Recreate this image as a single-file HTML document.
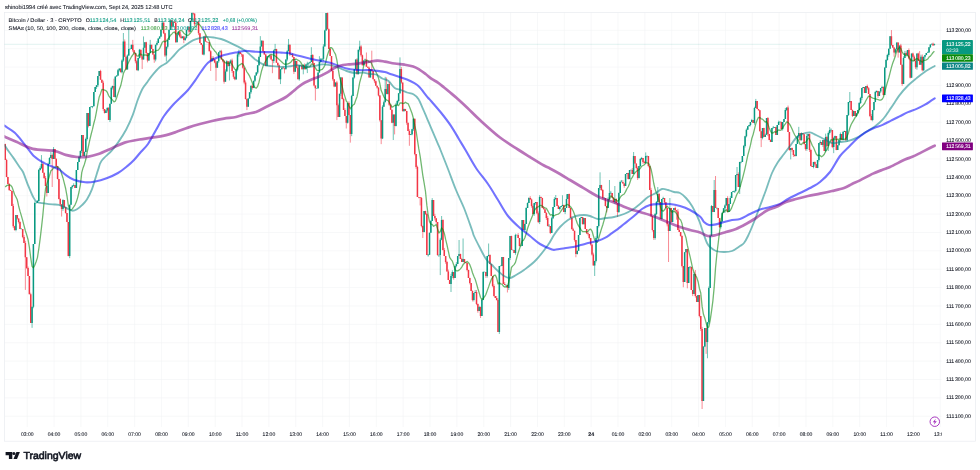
<!DOCTYPE html><html><head><meta charset="utf-8"><title>BTCUSD chart</title>
<style>html,body{margin:0;padding:0;background:#fff}svg{display:block;will-change:transform}text{font-family:"Liberation Sans",sans-serif;text-rendering:geometricPrecision;stroke-width:0.09}</style></head><body>
<svg width="980" height="470" viewBox="0 0 980 470">
<rect width="980" height="470" fill="#fff"/>
<defs><clipPath id="plot"><rect x="4.5" y="12.4" width="937.1" height="414.6"/></clipPath></defs>
<text x="5" y="9.3" font-size="5.75" fill="#131722" textLength="167.5" lengthAdjust="spacingAndGlyphs" stroke="#131722">shinobi1994 créé avec TradingView.com, Sept 24, 2025 12:48 UTC</text>
<path d="M27.2 12.4V427M54.05 12.4V427M80.91 12.4V427M107.77 12.4V427M134.62 12.4V427M161.47 12.4V427M188.33 12.4V427M215.19 12.4V427M242.04 12.4V427M268.89 12.4V427M295.75 12.4V427M322.61 12.4V427M349.46 12.4V427M376.31 12.4V427M403.17 12.4V427M430.02 12.4V427M456.88 12.4V427M483.74 12.4V427M510.59 12.4V427M537.45 12.4V427M564.3 12.4V427M591.16 12.4V427M618.01 12.4V427M644.87 12.4V427M671.72 12.4V427M698.58 12.4V427M725.43 12.4V427M752.29 12.4V427M779.14 12.4V427M806 12.4V427M832.85 12.4V427M859.71 12.4V427M886.56 12.4V427M913.42 12.4V427M940.27 12.4V427M4.5 30.3H941.6M4.5 48.68H941.6M4.5 67.05H941.6M4.5 85.43H941.6M4.5 103.8H941.6M4.5 122.18H941.6M4.5 140.56H941.6M4.5 158.93H941.6M4.5 177.31H941.6M4.5 195.68H941.6M4.5 214.06H941.6M4.5 232.44H941.6M4.5 250.81H941.6M4.5 269.19H941.6M4.5 287.56H941.6M4.5 305.94H941.6M4.5 324.32H941.6M4.5 342.69H941.6M4.5 361.07H941.6M4.5 379.44H941.6M4.5 397.82H941.6M4.5 416.2H941.6" stroke="#f2f3f5" stroke-width="0.6" fill="none"/>
<rect x="4.5" y="12.4" width="971" height="428.8" fill="none" stroke="#e9ebf0" stroke-width="0.7"/>
<g clip-path="url(#plot)">
<path d="M4.5 44.3H941.6" stroke="#089981" stroke-opacity="0.45" stroke-width="0.55" stroke-dasharray="0.5 0.5"/>
<g fill="none" stroke-width="0.58">
<path d="M5.22 143.67V160M6.56 158.82V177.13M7.9 176.92V184.15M9.25 183.07V190.22M10.59 189.73V191M11.93 191V206M13.27 203.85V228.03M14.62 225.83V230.68" stroke="#f23645"/>
<path d="M15.96 215V231.28" stroke="#089981"/>
<path d="M17.3 215V219.67M18.64 218.33V223.5M19.99 221.31V229" stroke="#f23645"/>
<path d="M21.33 228.34V229" stroke="#089981"/>
<path d="M22.67 229V238.26M24.02 235.07V243M25.36 240.84V289.92M26.7 257.18V269.08M28.04 266.53V276M29.39 276V294.24M30.73 292.71V323" stroke="#f23645"/>
<path d="M32.07 306.82V327.85M33.41 244V308.28M34.76 201.46V244M36.1 202.86V203M37.44 200.15V202.86M38.79 168.98V201.26M40.13 166.31V170.54M41.47 155.08V168.99" stroke="#089981"/>
<path d="M42.81 162.06V172.71M44.16 172.71V178.91M45.5 176.05V186M46.84 185.61V196.51" stroke="#f23645"/>
<path d="M48.18 162.7V193.01M49.53 157.19V164M50.87 152V158" stroke="#089981"/>
<path d="M52.21 153.64V187" stroke="#f23645"/>
<path d="M53.56 147.02V159" stroke="#089981"/>
<path d="M54.9 149V159M56.24 158.12V167.4M57.58 165.85V179.38M58.93 178.91V199.41M60.27 198.27V206.05M61.61 204.13V216.55" stroke="#f23645"/>
<path d="M62.96 199.2V210.87" stroke="#089981"/>
<path d="M64.3 200V208.06M65.64 206.78V213.58M66.98 213V222.05M68.33 222V256.32" stroke="#f23645"/>
<path d="M69.67 204.64V258.15M71.01 187V204.7M72.35 185.02V188.7M73.7 183.29V186.32" stroke="#089981"/>
<path d="M75.04 185V188" stroke="#f23645"/>
<path d="M76.38 170V188M77.73 162V170M79.07 155.86V162.06M80.41 150.44V158.52M81.75 135V153.12" stroke="#089981"/>
<path d="M83.1 135V156" stroke="#f23645"/>
<path d="M84.44 151.51V156.43M85.78 137.63V152M87.12 113V140.44" stroke="#089981"/>
<path d="M88.47 113V127.45" stroke="#f23645"/>
<path d="M89.81 107V126M91.15 106.42V107.39M92.5 106V108.18M93.84 92V106.88M95.18 87V92M96.52 85.06V88.99M97.87 76V87.15M99.21 71V76" stroke="#089981"/>
<path d="M100.55 69.79V79.73M101.89 79.7V82.8M103.24 80.75V110.92M104.58 109V113.55" stroke="#f23645"/>
<path d="M105.92 110.06V113M107.27 107.08V112.59" stroke="#089981"/>
<path d="M108.61 106.99V120" stroke="#f23645"/>
<path d="M109.95 103.87V122.02M111.29 86.52V103.91M112.64 85.6V89.45" stroke="#089981"/>
<path d="M113.98 78.66V97" stroke="#f23645"/>
<path d="M115.32 76.6V98.14M116.67 75.4V76.6M118.01 68.97V76.01M119.35 68.6V71.44" stroke="#089981"/>
<path d="M120.69 68.6V72.3" stroke="#f23645"/>
<path d="M122.04 59.25V73.43M123.38 33V61.77" stroke="#089981"/>
<path d="M124.72 39.43V56.82M126.06 56.82V69.4" stroke="#f23645"/>
<path d="M127.41 54.38V69.4M128.75 28V55.87M130.09 48.74V49.16M131.44 44.8V48.9" stroke="#089981"/>
<path d="M132.78 39.9V51.83M134.12 50.26V54.94M135.46 53V63.3M136.81 60.13V70.2" stroke="#f23645"/>
<path d="M138.15 57.9V71.15M139.49 48.95V58.6" stroke="#089981"/>
<path d="M140.83 49.7V57.52M142.18 56.26V69.07" stroke="#f23645"/>
<path d="M143.52 36.46V59.5M144.86 42.3V47.66" stroke="#089981"/>
<path d="M146.21 41.72V54.71M147.55 52.71V62.41" stroke="#f23645"/>
<path d="M148.89 53V60.73M150.23 39.9V53" stroke="#089981"/>
<path d="M151.58 44.8V49.03M152.92 48.9V54.76M154.26 54.6V62.8" stroke="#f23645"/>
<path d="M155.6 44.8V61.38M156.95 41.2V45.55M158.29 38.51V43.1M159.63 36.32V39.03M160.98 29.64V37.04M162.32 22.03V30" stroke="#089981"/>
<path d="M163.66 21.6V34.06M165 32.75V57.01" stroke="#f23645"/>
<path d="M166.35 46.7V61.44M167.69 39.9V48.5M169.03 28.91V39.9M170.38 19.09V30" stroke="#089981"/>
<path d="M171.72 20.2V28.63" stroke="#f23645"/>
<path d="M173.06 21.8V26.8" stroke="#089981"/>
<path d="M174.4 21.04V23.04M175.75 21.12V42.66" stroke="#f23645"/>
<path d="M177.09 33.02V42.3M178.43 31.7V35.4" stroke="#089981"/>
<path d="M179.77 30.69V37.58M181.12 34.48V38.2" stroke="#f23645"/>
<path d="M182.46 36.06V38.2" stroke="#089981"/>
<path d="M183.8 35.82V43.14" stroke="#f23645"/>
<path d="M185.15 36.59V41.01M186.49 29.42V38.57M187.83 26.75V30.51" stroke="#089981"/>
<path d="M189.17 26.8V33.35" stroke="#f23645"/>
<path d="M190.52 20.66V31.7M191.86 12.8V21.38" stroke="#089981"/>
<path d="M193.2 12.8V15.19M194.54 13.6V26.14" stroke="#f23645"/>
<path d="M195.89 23.39V24.3M197.23 21.8V23.39" stroke="#089981"/>
<path d="M198.57 20.65V35.14M199.92 33.3V43.1M201.26 43.1V44.8M202.6 44.8V54.6" stroke="#f23645"/>
<path d="M203.94 36.53V55.39" stroke="#089981"/>
<path d="M205.29 34.76V41.5M206.63 41.5V42.17M207.97 42.17V42.31M209.31 42.3V51.3M210.66 50.12V71" stroke="#f23645"/>
<path d="M212 56.28V61.36" stroke="#089981"/>
<path d="M213.34 56.3V61.13M214.69 59.5V63.28M216.03 60.93V80.9" stroke="#f23645"/>
<path d="M217.37 61.2V67.7M218.71 51.88V62.84M220.06 50.05V52.33" stroke="#089981"/>
<path d="M221.4 49.82V59.5M222.74 59.5V62.34M224.09 60.17V83.67" stroke="#f23645"/>
<path d="M225.43 69.34V81.7M226.77 60.19V71.49" stroke="#089981"/>
<path d="M228.11 61.2V66.69" stroke="#f23645"/>
<path d="M229.46 60.72V80.48M230.8 59.25V62.8" stroke="#089981"/>
<path d="M232.14 58.6V72.95M233.48 71V78.77M234.83 76.75V80.28" stroke="#f23645"/>
<path d="M236.17 69.02V79.96M237.51 52.75V71.33M238.86 49.7V56.64" stroke="#089981"/>
<path d="M240.2 52.2V53.96M241.54 53.14V56.8M242.88 54.6V68.64M244.23 67.59V84.34M245.57 80.44V99.48M246.91 98.48V110.1" stroke="#f23645"/>
<path d="M248.25 98.42V106.7M249.6 92.3V98.42M250.94 85.7V93.88" stroke="#089981"/>
<path d="M252.28 84.09V89.66" stroke="#f23645"/>
<path d="M253.63 80.8V88.11M254.97 75.61V81.84M256.31 71.94V75.61M257.65 65.2V74.04M259 55.71V65.57M260.34 36.14V56.94M261.68 40.22V46.4" stroke="#089981"/>
<path d="M263.02 40.7V51.61M264.37 51.1V54.8M265.71 54.03V66.1" stroke="#f23645"/>
<path d="M267.05 56.2V66.1M268.4 55.24V57.03M269.74 55.26V58.28" stroke="#089981"/>
<path d="M271.08 54.29V59.5M272.42 59.5V73.2" stroke="#f23645"/>
<path d="M273.77 49.62V63.2M275.11 43.9V50.5" stroke="#089981"/>
<path d="M276.45 48.83V62.8M277.8 62.8V66.62M279.14 64.47V79.2" stroke="#f23645"/>
<path d="M280.48 69.3V84.1M281.82 67.7V69.54" stroke="#089981"/>
<path d="M283.17 66.55V68.17M284.51 68.17V73.4" stroke="#f23645"/>
<path d="M285.85 59.5V69.3M287.19 50.09V61.22M288.54 38.98V51.3" stroke="#089981"/>
<path d="M289.88 44.52V56" stroke="#f23645"/>
<path d="M291.22 54.6V54.75" stroke="#089981"/>
<path d="M292.57 53.32V57.47M293.91 56.97V74.06" stroke="#f23645"/>
<path d="M295.25 58.99V71.8" stroke="#089981"/>
<path d="M296.59 61.1V68.22M297.94 65.59V79.2" stroke="#f23645"/>
<path d="M299.28 65.15V80.68M300.62 64.63V65.2" stroke="#089981"/>
<path d="M301.96 65.2V69.38" stroke="#f23645"/>
<path d="M303.31 64.27V74.3" stroke="#089981"/>
<path d="M304.65 63.45V69.3" stroke="#f23645"/>
<path d="M305.99 63.95V69.3M307.34 61.76V73.09M308.68 62.8V65.66M310.02 61.59V63.72M311.36 47.2V62" stroke="#089981"/>
<path d="M312.71 54.13V65.15M314.05 62.89V86.35M315.39 85.49V100.5" stroke="#f23645"/>
<path d="M316.73 88.2V88.2M318.08 72.6V88.61M319.42 56.2V72.6M320.76 58.04V62.86M322.11 58.45V60.12M323.45 44.3V60.94M324.79 29.72V46.4M326.13 13V30.61" stroke="#089981"/>
<path d="M327.48 12.18V29.27M328.82 28.47V48.9M330.16 48V56M331.51 56V71.08M332.85 68.98V80.84M334.19 79.2V87.2" stroke="#f23645"/>
<path d="M335.53 82.5V86.6" stroke="#089981"/>
<path d="M336.88 80.92V120.11M338.22 103.56V117" stroke="#f23645"/>
<path d="M339.56 93.77V117M340.9 76.99V95.87" stroke="#089981"/>
<path d="M342.25 77.5V99.45M343.59 97.81V110M344.93 108.23V116M346.28 116V128.5" stroke="#f23645"/>
<path d="M347.62 103V123.5" stroke="#089981"/>
<path d="M348.96 101.28V115.43M350.3 115V142.64" stroke="#f23645"/>
<path d="M351.65 94.82V136.16M352.99 77.5V96.04M354.33 69.12V78.6M355.67 59.5V69.82" stroke="#089981"/>
<path d="M357.02 58.14V74.3" stroke="#f23645"/>
<path d="M358.36 49.7V74.3M359.7 40.7V51.55" stroke="#089981"/>
<path d="M361.05 45.15V56.75M362.39 54.58V65.54" stroke="#f23645"/>
<path d="M363.73 60.4V65.2M365.07 58.63V60.4" stroke="#089981"/>
<path d="M366.42 52.49V66.69M367.76 66.69V67.7M369.1 66.66V77.5" stroke="#f23645"/>
<path d="M370.44 69.3V77.5" stroke="#089981"/>
<path d="M371.79 50.65V71.42M373.13 71V79.2M374.47 79.2V83.16M375.82 80.68V85.7M377.16 85.7V88.71M378.5 87.4V96.41M379.84 95.15V121.62M381.19 120.3V144.13" stroke="#f23645"/>
<path d="M382.53 105.21V139.09M383.87 100.55V106.84M385.22 76.83V102.3" stroke="#089981"/>
<path d="M386.56 77.5V94.26" stroke="#f23645"/>
<path d="M387.9 84.1V94.52" stroke="#089981"/>
<path d="M389.24 82V106.05M390.59 103.88V109.7M391.93 109.7V123.23" stroke="#f23645"/>
<path d="M393.27 114.6V140.01" stroke="#089981"/>
<path d="M394.61 114.6V134.4" stroke="#f23645"/>
<path d="M395.96 102.86V126.46M397.3 99.9V104.8M398.64 93.22V102.48M399.99 57.39V93.84" stroke="#089981"/>
<path d="M401.33 66.96V83.68M402.67 82.6V111.3" stroke="#f23645"/>
<path d="M404.01 108.62V111.3" stroke="#089981"/>
<path d="M405.36 108.9V111.12M406.7 111V124.79M408.04 122.8V131M409.38 129.27V145.79" stroke="#f23645"/>
<path d="M410.73 134.16V135.1M412.07 128.82V135.29M413.41 118.43V130.89" stroke="#089981"/>
<path d="M414.76 118.7V155.31M416.1 154.07V168.84M417.44 165.68V197M418.78 197V198.28M420.13 197.35V205.45M421.47 197.04V227.36M422.81 225.48V238" stroke="#f23645"/>
<path d="M424.15 211V232.4" stroke="#089981"/>
<path d="M425.5 210.76V214.95M426.84 213.03V255.09" stroke="#f23645"/>
<path d="M428.18 254.83V256.61M429.53 232.7V254.95M430.87 220.17V232.7M432.21 198.11V221" stroke="#089981"/>
<path d="M433.55 200V216M434.9 213.84V220.47M436.24 218.37V223.73M437.58 222V255.77" stroke="#f23645"/>
<path d="M438.93 255V256.97M440.27 237.86V275.1M441.61 216V240.24" stroke="#089981"/>
<path d="M442.95 219.3V250.4M444.3 247.94V256M445.64 256V263.73M446.98 260.83V271.48M448.32 269.56V279.89M449.67 279.89V284" stroke="#f23645"/>
<path d="M451.01 273.82V292M452.35 270.25V278.18" stroke="#089981"/>
<path d="M453.7 272V279.68" stroke="#f23645"/>
<path d="M455.04 265.5V278M456.38 262.13V267.29M457.72 256V263.94M459.07 240V256" stroke="#089981"/>
<path d="M460.41 253.67V259M461.75 257.87V262" stroke="#f23645"/>
<path d="M463.09 238.5V262" stroke="#089981"/>
<path d="M464.44 258.99V262.69M465.78 261.96V263M467.12 263V271.37M468.47 269.7V278M469.81 277.67V284.4M471.15 283V291M472.49 290.42V301.42" stroke="#f23645"/>
<path d="M473.84 293.12V301.42M475.18 289.94V293.12" stroke="#089981"/>
<path d="M476.52 290.01V305.17M477.86 303.48V312.71" stroke="#f23645"/>
<path d="M479.21 305.79V311" stroke="#089981"/>
<path d="M480.55 306.56V318" stroke="#f23645"/>
<path d="M481.89 298.59V316M483.24 271.32V300.11M484.58 272V272" stroke="#089981"/>
<path d="M485.92 272V277.86" stroke="#f23645"/>
<path d="M487.26 256V277.63M488.61 243.5V256.51" stroke="#089981"/>
<path d="M489.95 254.26V264M491.29 264V276M492.64 276V287.22M493.98 284.27V296.58M495.32 296V297.89M496.66 295.96V300.57M498.01 298.36V332" stroke="#f23645"/>
<path d="M499.35 266V333.94M500.69 265.47V266M502.03 257V266" stroke="#089981"/>
<path d="M503.38 257V284M504.72 282.15V285" stroke="#f23645"/>
<path d="M506.06 285V286.59" stroke="#089981"/>
<path d="M507.41 285V292.47" stroke="#f23645"/>
<path d="M508.75 258V290M510.09 235.94V260.04" stroke="#089981"/>
<path d="M511.43 235.69V250.09" stroke="#f23645"/>
<path d="M512.78 250V250" stroke="#089981"/>
<path d="M514.12 250V253" stroke="#f23645"/>
<path d="M515.46 233.7V254.8M516.8 235V235" stroke="#089981"/>
<path d="M518.15 233.09V238M519.49 238V246.45" stroke="#f23645"/>
<path d="M520.83 245.92V246M522.18 220V246" stroke="#089981"/>
<path d="M523.52 220V230" stroke="#f23645"/>
<path d="M524.86 223.72V231.67M526.2 207.3V223.99M527.55 202.38V208M528.89 197.29V203" stroke="#089981"/>
<path d="M530.23 196.13V199.43M531.57 198.52V207.7M532.92 204.45V214.48" stroke="#f23645"/>
<path d="M534.26 203V215.8M535.6 202V204.68" stroke="#089981"/>
<path d="M536.95 202V214.24M538.29 211.41V223.09" stroke="#f23645"/>
<path d="M539.63 195.17V224.08" stroke="#089981"/>
<path d="M540.97 196.53V198M542.32 197.76V208M543.66 206.27V209.35M545 209.35V213M546.35 212.12V219.96M547.69 216.05V226.45" stroke="#f23645"/>
<path d="M549.03 224.02V226.83" stroke="#089981"/>
<path d="M550.37 226V234.01" stroke="#f23645"/>
<path d="M551.72 216.71V233M553.06 207V219.08M554.4 197.15V207M555.74 195V199.97" stroke="#089981"/>
<path d="M557.09 198V206M558.43 204.98V209" stroke="#f23645"/>
<path d="M559.77 206.64V210.55M561.12 206V207.4M562.46 195.28V206.35" stroke="#089981"/>
<path d="M563.8 204.58V212" stroke="#f23645"/>
<path d="M565.14 208V214.12M566.49 194.15V208M567.83 194V199" stroke="#089981"/>
<path d="M569.17 193.57V208M570.51 207.55V218.07M571.86 216.26V229.16M573.2 227.76V231.03M574.54 230.72V241.63M575.89 240V257.26" stroke="#f23645"/>
<path d="M577.23 250.84V254.5M578.57 235V250.84M579.91 218V235M581.26 217V218" stroke="#089981"/>
<path d="M582.6 217V224.69" stroke="#f23645"/>
<path d="M583.94 218V224.92" stroke="#089981"/>
<path d="M585.28 218V229M586.63 229V234.08M587.97 231.78V235.49M589.31 234V239.44M590.66 238V245.58M592 244.5V255.6M593.34 252.68V265.5" stroke="#f23645"/>
<path d="M594.68 260.78V276M596.03 236.42V262.41M597.37 226V238.9M598.71 188V227.51M600.06 172.32V190.17" stroke="#089981"/>
<path d="M601.4 184.88V190.88M602.74 189.08V199.54" stroke="#f23645"/>
<path d="M604.08 197.42V199.63" stroke="#089981"/>
<path d="M605.43 198V206.48M606.77 206V212.47" stroke="#f23645"/>
<path d="M608.11 197.29V208M609.45 180V200.24M610.8 190.88V194.41" stroke="#089981"/>
<path d="M612.14 193V197.84M613.48 197.19V202.28" stroke="#f23645"/>
<path d="M614.83 186V203.87" stroke="#089981"/>
<path d="M616.17 198.17V203.94M617.51 202.99V217" stroke="#f23645"/>
<path d="M618.85 192.46V213.06M620.2 180.6V193M621.54 179.96V182" stroke="#089981"/>
<path d="M622.88 180.18V183.38M624.22 183.38V187.83" stroke="#f23645"/>
<path d="M625.57 174V186.03M626.91 173V174" stroke="#089981"/>
<path d="M628.25 172.78V179.51" stroke="#f23645"/>
<path d="M629.6 170V179.34M630.94 170V170" stroke="#089981"/>
<path d="M632.28 168.04V174" stroke="#f23645"/>
<path d="M633.62 152V174" stroke="#089981"/>
<path d="M634.97 156V163.52M636.31 163.52V169.52M637.65 166.37V179.94" stroke="#f23645"/>
<path d="M638.99 166V178.52M640.34 157.92V167.03M641.68 156.92V160.19" stroke="#089981"/>
<path d="M643.02 158V163.93M644.37 160.84V163" stroke="#f23645"/>
<path d="M645.71 152.4V163.92M647.05 156V157.4" stroke="#089981"/>
<path d="M648.39 156V167.34M649.74 166V190M651.08 187.84V217.07M652.42 216V231.58M653.77 230V239.9" stroke="#f23645"/>
<path d="M655.11 212.96V239.7M656.45 201.04V215.22M657.79 187V203.82" stroke="#089981"/>
<path d="M659.14 192.89V203.11M660.48 202V219" stroke="#f23645"/>
<path d="M661.82 199V219.7M663.16 196.71V199" stroke="#089981"/>
<path d="M664.51 198V203.88M665.85 202.29V208.11M667.19 207.99V226.36M668.54 224.33V262" stroke="#f23645"/>
<path d="M669.88 198V231" stroke="#089981"/>
<path d="M671.22 208V222" stroke="#f23645"/>
<path d="M672.56 210V222M673.91 208V210" stroke="#089981"/>
<path d="M675.25 206.53V212.03M676.59 209.96V219.7M677.93 209V230M679.28 228.19V231.98M680.62 231.98V236.66M681.96 235.3V267.41M683.31 266V287.25" stroke="#f23645"/>
<path d="M684.65 252.05V282M685.99 249V252.31" stroke="#089981"/>
<path d="M687.33 248.97V288.3" stroke="#f23645"/>
<path d="M688.68 267V283M690.02 266.09V268.42" stroke="#089981"/>
<path d="M691.36 266.67V290.01M692.7 290V296.13" stroke="#f23645"/>
<path d="M694.05 272.09V294.04" stroke="#089981"/>
<path d="M695.39 270V297.61M696.73 295.89V302" stroke="#f23645"/>
<path d="M698.08 295V302" stroke="#089981"/>
<path d="M699.42 295V317.38M700.76 316V331.05M702.1 326.88V409" stroke="#f23645"/>
<path d="M703.45 346.4V401M704.79 328V347.11" stroke="#089981"/>
<path d="M706.13 328V353.89" stroke="#f23645"/>
<path d="M707.48 322.09V358.26M708.82 286.51V323.98M710.16 234.58V288M711.5 205.15V236" stroke="#089981"/>
<path d="M712.85 206V212" stroke="#f23645"/>
<path d="M714.19 180V212.13" stroke="#089981"/>
<path d="M715.53 176V208" stroke="#f23645"/>
<path d="M716.87 208V209.33" stroke="#089981"/>
<path d="M718.22 208V218M719.56 218V227.94" stroke="#f23645"/>
<path d="M720.9 221.62V228.51M722.25 212.66V221.62M723.59 208V212.67M724.93 204.45V213M726.27 198V205.38" stroke="#089981"/>
<path d="M727.62 196.17V212" stroke="#f23645"/>
<path d="M728.96 204V212M730.3 196.13V204M731.64 192V198M732.99 191.12V192M734.33 191V192.95M735.67 175V192.34M737.02 167V175.45" stroke="#089981"/>
<path d="M738.36 172.35V187" stroke="#f23645"/>
<path d="M739.7 161.81V194M741.04 162V163.28M742.39 156V162M743.73 144.95V156M745.07 135.79V147.54M746.41 128.45V137.35M747.76 126.11V129.7M749.1 124.77V126.21M750.44 122V126.31M751.79 118.86V122.07" stroke="#089981"/>
<path d="M753.13 120V123" stroke="#f23645"/>
<path d="M754.47 106.75V124.71M755.81 98.92V108" stroke="#089981"/>
<path d="M757.16 101V109M758.5 108.92V110.61M759.84 110.1V131.35M761.19 131.35V147.08" stroke="#f23645"/>
<path d="M762.53 128V139.32" stroke="#089981"/>
<path d="M763.87 127.74V137" stroke="#f23645"/>
<path d="M765.21 133.55V137M766.56 118V134.79" stroke="#089981"/>
<path d="M767.9 117.01V136.12M769.24 134V140.08M770.58 139.23V142" stroke="#f23645"/>
<path d="M771.93 128V142M773.27 125.97V128M774.61 127V127.7" stroke="#089981"/>
<path d="M775.96 126.68V135" stroke="#f23645"/>
<path d="M777.3 125V135M778.64 120.7V125M779.98 121.29V122.27" stroke="#089981"/>
<path d="M781.33 121.63V129.31" stroke="#f23645"/>
<path d="M782.67 122V130.58M784.01 118.92V122M785.35 107.95V119M786.7 107.6V110.98" stroke="#089981"/>
<path d="M788.04 105.56V132M789.38 132V150.75" stroke="#f23645"/>
<path d="M790.73 148V159.38" stroke="#089981"/>
<path d="M792.07 147.51V151.67M793.41 150.1V156.92M794.75 154.09V156.6" stroke="#f23645"/>
<path d="M796.1 144V156.37M797.44 135.3V144M798.78 126.85V137.97" stroke="#089981"/>
<path d="M800.12 133V141.05" stroke="#f23645"/>
<path d="M801.47 132.43V140.8" stroke="#089981"/>
<path d="M802.81 133V134.17M804.15 134.17V144.64M805.5 144V150.6" stroke="#f23645"/>
<path d="M806.84 133.85V150.78M808.18 133.69V137.83" stroke="#089981"/>
<path d="M809.52 133.59V152.01M810.87 148.74V166.4M812.21 166V167" stroke="#f23645"/>
<path d="M813.55 161.83V168.34" stroke="#089981"/>
<path d="M814.9 161.4V165.68M816.24 164.33V168" stroke="#f23645"/>
<path d="M817.58 160V168.14M818.92 143V161.59M820.27 140.22V144.85" stroke="#089981"/>
<path d="M821.61 142V145.03" stroke="#f23645"/>
<path d="M822.95 140V146.92" stroke="#089981"/>
<path d="M824.29 139.59V151" stroke="#f23645"/>
<path d="M825.64 133.64V152.31" stroke="#089981"/>
<path d="M826.98 135.86V147.13" stroke="#f23645"/>
<path d="M828.32 131.43V151M829.67 127V134.56M831.01 128.35V131.92" stroke="#089981"/>
<path d="M832.35 130V148.13" stroke="#f23645"/>
<path d="M833.69 136.82V153.13M835.04 135.6V138.55" stroke="#089981"/>
<path d="M836.38 136V150.21" stroke="#f23645"/>
<path d="M837.72 145.22V150.04M839.06 140V145.22M840.41 132.45V141.91" stroke="#089981"/>
<path d="M841.75 134V140.27" stroke="#f23645"/>
<path d="M843.09 130.9V140.27M844.44 130.7V132" stroke="#089981"/>
<path d="M845.78 131V141.26" stroke="#f23645"/>
<path d="M847.12 115V141.82M848.46 102V115.93M849.81 92V102.87" stroke="#089981"/>
<path d="M851.15 101V110M852.49 109.47V116.96" stroke="#f23645"/>
<path d="M853.83 111V116" stroke="#089981"/>
<path d="M855.18 111V116" stroke="#f23645"/>
<path d="M856.52 113.16V117.14M857.86 110V113.16M859.21 102.07V110M860.55 96.83V103.95M861.89 87.95V100.13M863.23 87V88" stroke="#089981"/>
<path d="M864.58 87V93" stroke="#f23645"/>
<path d="M865.92 86V93" stroke="#089981"/>
<path d="M867.26 84.59V89.73M868.61 87.04V94M869.95 94V117.14M871.29 113.91V120.67" stroke="#f23645"/>
<path d="M872.63 110V121.31M873.98 102V110.59M875.32 90.83V102.27M876.66 90.35V92.63" stroke="#089981"/>
<path d="M878 90.81V97.85" stroke="#f23645"/>
<path d="M879.35 91.5V96M880.69 88V93.07M882.03 85.79V88" stroke="#089981"/>
<path d="M883.38 86.32V95.49" stroke="#f23645"/>
<path d="M884.72 66.96V95M886.06 59.22V67.81M887.4 53.78V60.63M888.75 48.7V56.7M890.09 36.15V48.7" stroke="#089981"/>
<path d="M891.43 30.06V45.97M892.77 45V48M894.12 47.5V56.7" stroke="#f23645"/>
<path d="M895.46 48.56V53.89M896.8 42.5V49.3" stroke="#089981"/>
<path d="M898.15 42.5V57.63" stroke="#f23645"/>
<path d="M899.49 45.6V52.4" stroke="#089981"/>
<path d="M900.83 43.87V64.7M902.17 64.7V85.92" stroke="#f23645"/>
<path d="M903.52 56.32V84M904.86 50.88V58" stroke="#089981"/>
<path d="M906.2 51.28V54.9" stroke="#f23645"/>
<path d="M907.54 50V55.9" stroke="#089981"/>
<path d="M908.89 48.41V59.46M910.23 58.6V78.41" stroke="#f23645"/>
<path d="M911.57 53.6V77.7" stroke="#089981"/>
<path d="M912.92 52.62V57.37M914.26 55.43V60.92M915.6 58.9V69.06" stroke="#f23645"/>
<path d="M916.94 53.6V69.7" stroke="#089981"/>
<path d="M918.29 52.66V61M919.63 51.1V64.7" stroke="#f23645"/>
<path d="M920.97 54.68V64.7" stroke="#089981"/>
<path d="M922.32 54.5V71.44" stroke="#f23645"/>
<path d="M923.66 56.7V71.09M925 54.97V58.79M926.34 53V55.19M927.69 51.52V53M929.03 47.13V52.4M930.37 44.4V48.09M931.71 43.8V44.4" stroke="#089981"/>
<path d="M933.06 42.63V45.6" stroke="#f23645"/>
<path d="M934.4 43.6V45.6" stroke="#089981"/>
</g><g fill="none" stroke-width="1.5">
<path d="M5.22 144V160M6.56 160V177M7.9 177V184M9.25 184V190.22M10.59 190.22V191M11.93 191V206M13.27 206V226.15M14.62 226.15V230" stroke="#f23645"/>
<path d="M15.96 215V230" stroke="#089981"/>
<path d="M17.3 215V218.46M18.64 218.46V222M19.99 222V229" stroke="#f23645"/>
<path d="M21.33 228.7V229.3" stroke="#089981"/>
<path d="M22.67 229V237M24.02 237V243M25.36 243V257.18M26.7 257.18V268M28.04 268V276M29.39 276V294.24M30.73 294.24V323" stroke="#f23645"/>
<path d="M32.07 306.82V323M33.41 244V306.82M34.76 203V244M36.1 202.63V203.23M37.44 201V202.86M38.79 170V201M40.13 168V170M41.47 164V168" stroke="#089981"/>
<path d="M42.81 164V172.71M44.16 172.71V178M45.5 178V186M46.84 186V193" stroke="#f23645"/>
<path d="M48.18 164V193M49.53 158V164M50.87 155V158" stroke="#089981"/>
<path d="M52.21 155V159" stroke="#f23645"/>
<path d="M53.56 149V159" stroke="#089981"/>
<path d="M54.9 149V159M56.24 159V166M57.58 166V179.02M58.93 179.02V199.07M60.27 199.07V204.13M61.61 204.13V209" stroke="#f23645"/>
<path d="M62.96 200V209" stroke="#089981"/>
<path d="M64.3 200V207M65.64 207V213M66.98 213V222M68.33 222V256" stroke="#f23645"/>
<path d="M69.67 204.7V256M71.01 187V204.7M72.35 185.83V187M73.7 185V185.83" stroke="#089981"/>
<path d="M75.04 185V188" stroke="#f23645"/>
<path d="M76.38 170V188M77.73 162V170M79.07 157V162M80.41 151.06V157M81.75 135V151.06" stroke="#089981"/>
<path d="M83.1 135V156" stroke="#f23645"/>
<path d="M84.44 152V156M85.78 139V152M87.12 113V139" stroke="#089981"/>
<path d="M88.47 113V126" stroke="#f23645"/>
<path d="M89.81 107V126M91.15 106.41V107.01M92.5 105.91V106.51M93.84 92V106M95.18 87V92M96.52 85.34V87M97.87 76V85.34M99.21 71V76" stroke="#089981"/>
<path d="M100.55 71V79.7M101.89 79.7V82.8M103.24 82.8V109M104.58 109V113" stroke="#f23645"/>
<path d="M105.92 110.59V113M107.27 108V110.59" stroke="#089981"/>
<path d="M108.61 108V120" stroke="#f23645"/>
<path d="M109.95 103.87V120M111.29 87.69V103.87M112.64 86V87.69" stroke="#089981"/>
<path d="M113.98 86V97" stroke="#f23645"/>
<path d="M115.32 76.6V97M116.67 75.4V76.6M118.01 70.2V75.4M119.35 68.6V70.2" stroke="#089981"/>
<path d="M120.69 68.6V72.3" stroke="#f23645"/>
<path d="M122.04 60.6V72.3M123.38 41.5V60.6" stroke="#089981"/>
<path d="M124.72 41.5V56.82M126.06 56.82V69.4" stroke="#f23645"/>
<path d="M127.41 55.61V69.4M128.75 49V55.61M130.09 48.65V49.25M131.44 44.8V48.9" stroke="#089981"/>
<path d="M132.78 44.8V50.26M134.12 50.26V53M135.46 53V61.2M136.81 61.2V70.2" stroke="#f23645"/>
<path d="M138.15 57.9V70.2M139.49 49.7V57.9" stroke="#089981"/>
<path d="M140.83 49.7V56.3M142.18 56.3V59.5" stroke="#f23645"/>
<path d="M143.52 47.66V59.5M144.86 42.3V47.66" stroke="#089981"/>
<path d="M146.21 42.3V53M147.55 53V60.4" stroke="#f23645"/>
<path d="M148.89 53V60.4M150.23 44.8V53" stroke="#089981"/>
<path d="M151.58 44.8V48.9M152.92 48.9V54.6M154.26 54.6V59.5" stroke="#f23645"/>
<path d="M155.6 44.8V59.5M156.95 43.1V44.8M158.29 38.51V43.1M159.63 36.6V38.51M160.98 30V36.6M162.32 22.7V30" stroke="#089981"/>
<path d="M163.66 22.7V33.3M165 33.3V55.4" stroke="#f23645"/>
<path d="M166.35 46.7V55.4M167.69 39.9V46.7M169.03 30V39.9M170.38 20.2V30" stroke="#089981"/>
<path d="M171.72 20.2V26.8" stroke="#f23645"/>
<path d="M173.06 21.8V26.8" stroke="#089981"/>
<path d="M174.4 21.8V22.75M175.75 22.75V42.3" stroke="#f23645"/>
<path d="M177.09 34.87V42.3M178.43 31.7V34.87" stroke="#089981"/>
<path d="M179.77 31.7V36.6M181.12 36.6V38.2" stroke="#f23645"/>
<path d="M182.46 36.6V38.2" stroke="#089981"/>
<path d="M183.8 36.6V39.9" stroke="#f23645"/>
<path d="M185.15 37.69V39.9M186.49 30V37.69M187.83 26.8V30" stroke="#089981"/>
<path d="M189.17 26.8V31.7" stroke="#f23645"/>
<path d="M190.52 20.66V31.7M191.86 12.8V20.66" stroke="#089981"/>
<path d="M193.2 12.8V13.6M194.54 13.6V24.3" stroke="#f23645"/>
<path d="M195.89 23.39V24.3M197.23 21.8V23.39" stroke="#089981"/>
<path d="M198.57 21.8V33.3M199.92 33.3V43.1M201.26 43.1V44.8M202.6 44.8V54.6" stroke="#f23645"/>
<path d="M203.94 36.6V54.6" stroke="#089981"/>
<path d="M205.29 36.6V41.5M206.63 41.5V42.17M207.97 41.93V42.53M209.31 42.3V51.3M210.66 51.3V61.2" stroke="#f23645"/>
<path d="M212 57.9V61.2" stroke="#089981"/>
<path d="M213.34 57.9V59.5M214.69 59.5V62.43M216.03 62.43V67.7" stroke="#f23645"/>
<path d="M217.37 61.2V67.7M218.71 52.2V61.2M220.06 51.3V52.2" stroke="#089981"/>
<path d="M221.4 51.3V59.5M222.74 59.5V61.2M224.09 61.2V81.7" stroke="#f23645"/>
<path d="M225.43 71.49V81.7M226.77 61.2V71.49" stroke="#089981"/>
<path d="M228.11 61.2V66.1" stroke="#f23645"/>
<path d="M229.46 62.8V66.1M230.8 60.4V62.8" stroke="#089981"/>
<path d="M232.14 60.4V71M233.48 71V76.8M234.83 76.8V79.2" stroke="#f23645"/>
<path d="M236.17 69.68V79.2M237.51 54.6V69.68M238.86 52.2V54.6" stroke="#089981"/>
<path d="M240.2 52.2V53.96M241.54 53.96V54.6M242.88 54.6V67.7M244.23 67.7V82.5M245.57 82.5V98.9M246.91 98.9V106.7" stroke="#f23645"/>
<path d="M248.25 98.42V106.7M249.6 92.3V98.42M250.94 85.7V92.3" stroke="#089981"/>
<path d="M252.28 85.7V88" stroke="#f23645"/>
<path d="M253.63 80.8V88M254.97 75.61V80.8M256.31 72.6V75.61M257.65 65.2V72.6M259 56.94V65.2M260.34 46.4V56.94M261.68 40.7V46.4" stroke="#089981"/>
<path d="M263.02 40.7V51.3M264.37 51.3V54.6M265.71 54.6V66.1" stroke="#f23645"/>
<path d="M267.05 56.2V66.1M268.4 55.88V56.48M269.74 55.4V56.15" stroke="#089981"/>
<path d="M271.08 55.4V59.5M272.42 59.5V61.1" stroke="#f23645"/>
<path d="M273.77 50.5V61.1M275.11 48.9V50.5" stroke="#089981"/>
<path d="M276.45 48.9V62.8M277.8 62.8V65.33M279.14 65.33V79.2" stroke="#f23645"/>
<path d="M280.48 69.3V79.2M281.82 67.7V69.3" stroke="#089981"/>
<path d="M283.17 67.63V68.23M284.51 68.17V69.3" stroke="#f23645"/>
<path d="M285.85 59.5V69.3M287.19 51.3V59.5M288.54 44.8V51.3" stroke="#089981"/>
<path d="M289.88 44.8V54.6" stroke="#f23645"/>
<path d="M291.22 54.3V54.9" stroke="#089981"/>
<path d="M292.57 54.6V56.97M293.91 56.97V71.8" stroke="#f23645"/>
<path d="M295.25 61.1V71.8" stroke="#089981"/>
<path d="M296.59 61.1V67.7M297.94 67.7V79.2" stroke="#f23645"/>
<path d="M299.28 65.2V79.2M300.62 64.9V65.5" stroke="#089981"/>
<path d="M301.96 65.2V69.3" stroke="#f23645"/>
<path d="M303.31 65.2V69.3" stroke="#089981"/>
<path d="M304.65 65.2V69.3" stroke="#f23645"/>
<path d="M305.99 64.4V69.3M307.34 63.56V64.4M308.68 62.8V63.56M310.02 62V62.8M311.36 55V62" stroke="#089981"/>
<path d="M312.71 55V63M314.05 63V85.49M315.39 85.49V88.2" stroke="#f23645"/>
<path d="M316.73 87.9V88.5M318.08 72.6V88.2M319.42 62.04V72.6M320.76 59.5V62.04M322.11 58.82V59.5M323.45 46.4V58.82M324.79 30.5V46.4M326.13 13V30.5" stroke="#089981"/>
<path d="M327.48 13V29.27M328.82 29.27V48.9M330.16 48.9V56M331.51 56V71M332.85 71V79.2M334.19 79.2V86.6" stroke="#f23645"/>
<path d="M335.53 82.5V86.6" stroke="#089981"/>
<path d="M336.88 82.5V105.23M338.22 105.23V117" stroke="#f23645"/>
<path d="M339.56 93.77V117M340.9 77.5V93.77" stroke="#089981"/>
<path d="M342.25 77.5V98.9M343.59 98.9V110M344.93 110V116M346.28 116V122.8" stroke="#f23645"/>
<path d="M347.62 103V122.8" stroke="#089981"/>
<path d="M348.96 103V115M350.3 115V134" stroke="#f23645"/>
<path d="M351.65 96.04V134M352.99 77.5V96.04M354.33 69.3V77.5M355.67 59.5V69.3" stroke="#089981"/>
<path d="M357.02 59.5V74.3" stroke="#f23645"/>
<path d="M358.36 49.7V74.3M359.7 46.4V49.7" stroke="#089981"/>
<path d="M361.05 46.4V55.13M362.39 55.13V65.2" stroke="#f23645"/>
<path d="M363.73 60.4V65.2M365.07 59.5V60.4" stroke="#089981"/>
<path d="M366.42 59.5V66.69M367.76 66.69V67.7M369.1 67.7V77.5" stroke="#f23645"/>
<path d="M370.44 69.3V77.5" stroke="#089981"/>
<path d="M371.79 69.3V71M373.13 71V79.2M374.47 79.2V81.25M375.82 81.25V85.7M377.16 85.7V87.4M378.5 87.4V95.6M379.84 95.6V120.3M381.19 120.3V138.4" stroke="#f23645"/>
<path d="M382.53 106.7V138.4M383.87 102.3V106.7M385.22 89V102.3" stroke="#089981"/>
<path d="M386.56 89V93.9" stroke="#f23645"/>
<path d="M387.9 84.1V93.9" stroke="#089981"/>
<path d="M389.24 84.1V104.8M390.59 104.8V109.7M391.93 109.7V122.8" stroke="#f23645"/>
<path d="M393.27 114.6V122.8" stroke="#089981"/>
<path d="M394.61 114.6V126.1" stroke="#f23645"/>
<path d="M395.96 104.8V126.1M397.3 101.11V104.8M398.64 93.22V101.11M399.99 69V93.22" stroke="#089981"/>
<path d="M401.33 69V82.6M402.67 82.6V111.3" stroke="#f23645"/>
<path d="M404.01 108.9V111.3" stroke="#089981"/>
<path d="M405.36 108.9V111M406.7 111V122.8M408.04 122.8V131M409.38 131V135.1" stroke="#f23645"/>
<path d="M410.73 134.16V135.1M412.07 129.3V134.16M413.41 118.7V129.3" stroke="#089981"/>
<path d="M414.76 118.7V154.07M416.1 154.07V167M417.44 167V197M418.78 196.88V197.48M420.13 197.35V198M421.47 198V226M422.81 226V232" stroke="#f23645"/>
<path d="M424.15 211V232" stroke="#089981"/>
<path d="M425.5 211V214M426.84 214V255" stroke="#f23645"/>
<path d="M428.18 254.62V255.22M429.53 232.7V254.83M430.87 221V232.7M432.21 200V221" stroke="#089981"/>
<path d="M433.55 200V216M434.9 216V218.37M436.24 218.37V222M437.58 222V255" stroke="#f23645"/>
<path d="M438.93 254.7V255.3M440.27 239.66V255M441.61 220V239.66" stroke="#089981"/>
<path d="M442.95 220V250M444.3 250V256M445.64 256V262M446.98 262V271.48M448.32 271.48V279.89M449.67 279.89V284" stroke="#f23645"/>
<path d="M451.01 276V284M452.35 272V276" stroke="#089981"/>
<path d="M453.7 272V278" stroke="#f23645"/>
<path d="M455.04 265.88V278M456.38 263.94V265.88M457.72 256V263.94M459.07 254V256" stroke="#089981"/>
<path d="M460.41 254V259M461.75 259V262" stroke="#f23645"/>
<path d="M463.09 259V262" stroke="#089981"/>
<path d="M464.44 259V262.45M465.78 262.43V263.03M467.12 263V270M468.47 270V278M469.81 278V283M471.15 283V291M472.49 291V300" stroke="#f23645"/>
<path d="M473.84 293.12V300M475.18 292V293.12" stroke="#089981"/>
<path d="M476.52 292V304M477.86 304V311" stroke="#f23645"/>
<path d="M479.21 307V311" stroke="#089981"/>
<path d="M480.55 307V316" stroke="#f23645"/>
<path d="M481.89 300V316M483.24 272V300M484.58 271.7V272.3" stroke="#089981"/>
<path d="M485.92 272V276" stroke="#f23645"/>
<path d="M487.26 256V276M488.61 255V256" stroke="#089981"/>
<path d="M489.95 255V264M491.29 264V276M492.64 276V286M493.98 286V296M495.32 296V297.89M496.66 297.89V300M498.01 300V332" stroke="#f23645"/>
<path d="M499.35 266V332M500.69 265.7V266.3M502.03 257V266" stroke="#089981"/>
<path d="M503.38 257V284M504.72 284V285" stroke="#f23645"/>
<path d="M506.06 284.7V285.3" stroke="#089981"/>
<path d="M507.41 285V288" stroke="#f23645"/>
<path d="M508.75 258V288M510.09 236V258" stroke="#089981"/>
<path d="M511.43 236V250" stroke="#f23645"/>
<path d="M512.78 249.7V250.3" stroke="#089981"/>
<path d="M514.12 250V253" stroke="#f23645"/>
<path d="M515.46 235V253M516.8 234.7V235.3" stroke="#089981"/>
<path d="M518.15 235V238M519.49 238V246" stroke="#f23645"/>
<path d="M520.83 245.7V246.3M522.18 220V246" stroke="#089981"/>
<path d="M523.52 220V230" stroke="#f23645"/>
<path d="M524.86 223.94V230M526.2 208V223.94M527.55 203V208M528.89 198V203" stroke="#089981"/>
<path d="M530.23 198V199.43M531.57 199.43V206M532.92 206V214" stroke="#f23645"/>
<path d="M534.26 203V214M535.6 202V203" stroke="#089981"/>
<path d="M536.95 202V213.16M538.29 213.16V222" stroke="#f23645"/>
<path d="M539.63 197V222" stroke="#089981"/>
<path d="M540.97 197V198M542.32 198V208M543.66 208V209.35M545 209.35V213M546.35 213V218M547.69 218V226" stroke="#f23645"/>
<path d="M549.03 225.7V226.3" stroke="#089981"/>
<path d="M550.37 226V233" stroke="#f23645"/>
<path d="M551.72 218.37V233M553.06 207V218.37M554.4 199V207M555.74 198V199" stroke="#089981"/>
<path d="M557.09 198V206M558.43 206V209" stroke="#f23645"/>
<path d="M559.77 207.06V209M561.12 206V207.06M562.46 205V206" stroke="#089981"/>
<path d="M563.8 205V212" stroke="#f23645"/>
<path d="M565.14 208V212M566.49 199V208M567.83 194V199" stroke="#089981"/>
<path d="M569.17 194V208M570.51 208V218M571.86 218V229.16M573.2 229.16V230.72M574.54 230.72V240M575.89 240V254" stroke="#f23645"/>
<path d="M577.23 250.84V254M578.57 235V250.84M579.91 218V235M581.26 217V218" stroke="#089981"/>
<path d="M582.6 217V224" stroke="#f23645"/>
<path d="M583.94 218V224" stroke="#089981"/>
<path d="M585.28 218V229M586.63 229V233.15M587.97 233.15V234M589.31 234V238M590.66 238V244.5M592 244.5V254.4M593.34 254.4V265.5" stroke="#f23645"/>
<path d="M594.68 261V265.5M596.03 238V261M597.37 226V238M598.71 188V226M600.06 185V188" stroke="#089981"/>
<path d="M601.4 185V190M602.74 190V198" stroke="#f23645"/>
<path d="M604.08 197.7V198.3" stroke="#089981"/>
<path d="M605.43 198V206M606.77 206V208" stroke="#f23645"/>
<path d="M608.11 199V208M609.45 193V199M610.8 192.7V193.3" stroke="#089981"/>
<path d="M612.14 193V197.84M613.48 197.84V202" stroke="#f23645"/>
<path d="M614.83 199V202" stroke="#089981"/>
<path d="M616.17 199V203M617.51 203V212" stroke="#f23645"/>
<path d="M618.85 193V212M620.2 182V193M621.54 181.7V182.3" stroke="#089981"/>
<path d="M622.88 182V183.38M624.22 183.38V186" stroke="#f23645"/>
<path d="M625.57 174V186M626.91 173V174" stroke="#089981"/>
<path d="M628.25 173V179" stroke="#f23645"/>
<path d="M629.6 170V179M630.94 169.7V170.3" stroke="#089981"/>
<path d="M632.28 170V174" stroke="#f23645"/>
<path d="M633.62 156V174" stroke="#089981"/>
<path d="M634.97 156V163.52M636.31 163.52V168M637.65 168V178" stroke="#f23645"/>
<path d="M638.99 166V178M640.34 159V166M641.68 158V159" stroke="#089981"/>
<path d="M643.02 158V162.08M644.37 162.08V163" stroke="#f23645"/>
<path d="M645.71 156V163M647.05 155.7V156.3" stroke="#089981"/>
<path d="M648.39 156V166M649.74 166V190M651.08 190V216M652.42 216V230M653.77 230V238" stroke="#f23645"/>
<path d="M655.11 214V238M656.45 202V214M657.79 194V202" stroke="#089981"/>
<path d="M659.14 194V202M660.48 202V219" stroke="#f23645"/>
<path d="M661.82 199V219M663.16 198V199" stroke="#089981"/>
<path d="M664.51 198V202.29M665.85 202.29V208M667.19 208V224.33M668.54 224.33V231" stroke="#f23645"/>
<path d="M669.88 208V231" stroke="#089981"/>
<path d="M671.22 208V222" stroke="#f23645"/>
<path d="M672.56 210V222M673.91 208V210" stroke="#089981"/>
<path d="M675.25 208V210.35M676.59 210.35V211.6M677.93 211.6V230M679.28 230V231.98M680.62 231.98V236M681.96 236V266M683.31 266V282" stroke="#f23645"/>
<path d="M684.65 252.31V282M685.99 249V252.31" stroke="#089981"/>
<path d="M687.33 249V283" stroke="#f23645"/>
<path d="M688.68 267V283M690.02 266.7V267.3" stroke="#089981"/>
<path d="M691.36 267V290M692.7 290V294" stroke="#f23645"/>
<path d="M694.05 274V294" stroke="#089981"/>
<path d="M695.39 274V296M696.73 296V302" stroke="#f23645"/>
<path d="M698.08 295V302" stroke="#089981"/>
<path d="M699.42 295V316M700.76 316V329M702.1 329V401" stroke="#f23645"/>
<path d="M703.45 346.43V401M704.79 328V346.43" stroke="#089981"/>
<path d="M706.13 328V342" stroke="#f23645"/>
<path d="M707.48 322.23V342M708.82 288V322.23M710.16 236V288M711.5 206V236" stroke="#089981"/>
<path d="M712.85 206V212" stroke="#f23645"/>
<path d="M714.19 190V212" stroke="#089981"/>
<path d="M715.53 190V208" stroke="#f23645"/>
<path d="M716.87 207.7V208.3" stroke="#089981"/>
<path d="M718.22 208V218M719.56 218V227" stroke="#f23645"/>
<path d="M720.9 221.62V227M722.25 212.66V221.62M723.59 208.16V212.66M724.93 205.38V208.16M726.27 198V205.38" stroke="#089981"/>
<path d="M727.62 198V212" stroke="#f23645"/>
<path d="M728.96 204V212M730.3 198V204M731.64 192V198M732.99 191.3V192M734.33 190.85V191.45M735.67 175V191M737.02 174V175" stroke="#089981"/>
<path d="M738.36 174V187" stroke="#f23645"/>
<path d="M739.7 162V187M741.04 161.7V162.3M742.39 156V162M743.73 146V156M745.07 136.21V146M746.41 129.7V136.21M747.76 126.21V129.7M749.1 125V126.21M750.44 122V125M751.79 120V122" stroke="#089981"/>
<path d="M753.13 120V123" stroke="#f23645"/>
<path d="M754.47 108V123M755.81 101V108" stroke="#089981"/>
<path d="M757.16 101V109M758.5 109V110.21M759.84 110.21V131.35M761.19 131.35V138" stroke="#f23645"/>
<path d="M762.53 128V138" stroke="#089981"/>
<path d="M763.87 128V137" stroke="#f23645"/>
<path d="M765.21 134.79V137M766.56 118V134.79" stroke="#089981"/>
<path d="M767.9 118V134M769.24 134V140M770.58 140V142" stroke="#f23645"/>
<path d="M771.93 128V142M773.27 127.55V128.15M774.61 127V127.7" stroke="#089981"/>
<path d="M775.96 127V135" stroke="#f23645"/>
<path d="M777.3 125V135M778.64 122V125M779.98 121.7V122.3" stroke="#089981"/>
<path d="M781.33 122V129" stroke="#f23645"/>
<path d="M782.67 122V129M784.01 119V122M785.35 110V119M786.7 107.6V110" stroke="#089981"/>
<path d="M788.04 107.6V132M789.38 132V150" stroke="#f23645"/>
<path d="M790.73 148V150" stroke="#089981"/>
<path d="M792.07 148V150.1M793.41 150.1V155M794.75 155V156" stroke="#f23645"/>
<path d="M796.1 144V156M797.44 136V144M798.78 133V136" stroke="#089981"/>
<path d="M800.12 133V140" stroke="#f23645"/>
<path d="M801.47 133V140" stroke="#089981"/>
<path d="M802.81 133V134.17M804.15 134.17V144M805.5 144V149" stroke="#f23645"/>
<path d="M806.84 136V149M808.18 134V136" stroke="#089981"/>
<path d="M809.52 134V150M810.87 150V166M812.21 166V167" stroke="#f23645"/>
<path d="M813.55 162V167" stroke="#089981"/>
<path d="M814.9 162V164.33M816.24 164.33V168" stroke="#f23645"/>
<path d="M817.58 160V168M818.92 143V160M820.27 142V143" stroke="#089981"/>
<path d="M821.61 142V145" stroke="#f23645"/>
<path d="M822.95 140V145" stroke="#089981"/>
<path d="M824.29 140V151" stroke="#f23645"/>
<path d="M825.64 137V151" stroke="#089981"/>
<path d="M826.98 137V146" stroke="#f23645"/>
<path d="M828.32 133V146M829.67 130V133M831.01 129.7V130.3" stroke="#089981"/>
<path d="M832.35 130V147" stroke="#f23645"/>
<path d="M833.69 138V147M835.04 136V138" stroke="#089981"/>
<path d="M836.38 136V150" stroke="#f23645"/>
<path d="M837.72 145.22V150M839.06 140V145.22M840.41 134V140" stroke="#089981"/>
<path d="M841.75 134V140" stroke="#f23645"/>
<path d="M843.09 132V140M844.44 131V132" stroke="#089981"/>
<path d="M845.78 131V140" stroke="#f23645"/>
<path d="M847.12 115V140M848.46 102V115M849.81 101V102" stroke="#089981"/>
<path d="M851.15 101V110M852.49 110V116" stroke="#f23645"/>
<path d="M853.83 111V116" stroke="#089981"/>
<path d="M855.18 111V116" stroke="#f23645"/>
<path d="M856.52 113.16V116M857.86 110V113.16M859.21 103V110M860.55 98V103M861.89 88V98M863.23 87V88" stroke="#089981"/>
<path d="M864.58 87V93" stroke="#f23645"/>
<path d="M865.92 86V93" stroke="#089981"/>
<path d="M867.26 86V88.24M868.61 88.24V94M869.95 94V116M871.29 116V120" stroke="#f23645"/>
<path d="M872.63 110V120M873.98 102V110M875.32 92V102M876.66 91V92" stroke="#089981"/>
<path d="M878 91V96" stroke="#f23645"/>
<path d="M879.35 91.5V96M880.69 88V91.5M882.03 87V88" stroke="#089981"/>
<path d="M883.38 87V95" stroke="#f23645"/>
<path d="M884.72 67.8V95M886.06 60V67.8M887.4 55V60M888.75 48.7V55M890.09 36.3V48.7" stroke="#089981"/>
<path d="M891.43 36.3V45M892.77 45V47.5M894.12 47.5V52.4" stroke="#f23645"/>
<path d="M895.46 49.3V52.4M896.8 42.5V49.3" stroke="#089981"/>
<path d="M898.15 42.5V52.4" stroke="#f23645"/>
<path d="M899.49 45.6V52.4" stroke="#089981"/>
<path d="M900.83 45.6V64.7M902.17 64.7V84" stroke="#f23645"/>
<path d="M903.52 58V84M904.86 53V58" stroke="#089981"/>
<path d="M906.2 53V54.9" stroke="#f23645"/>
<path d="M907.54 50V54.9" stroke="#089981"/>
<path d="M908.89 50V58.6M910.23 58.6V77.7" stroke="#f23645"/>
<path d="M911.57 53.6V77.7" stroke="#089981"/>
<path d="M912.92 53.6V56.7M914.26 56.7V60.92M915.6 60.92V67.2" stroke="#f23645"/>
<path d="M916.94 53.6V67.2" stroke="#089981"/>
<path d="M918.29 53.6V61M919.63 61V64.7" stroke="#f23645"/>
<path d="M920.97 56.7V64.7" stroke="#089981"/>
<path d="M922.32 56.7V70.3" stroke="#f23645"/>
<path d="M923.66 56.7V70.3M925 54.97V56.7M926.34 53V54.97M927.69 52.4V53M929.03 47.13V52.4M930.37 44.4V47.13M931.71 43.8V44.4" stroke="#089981"/>
<path d="M933.06 43.8V45.6" stroke="#f23645"/>
<path d="M934.4 44.08V44.67" stroke="#089981"/>
</g>
<path d="M5.22 187L6.56 185.7L7.9 185.1L9.25 185.12L10.59 185.22L11.93 186.82L13.27 190.44L14.62 194.44L15.96 196.94L17.3 199.78L18.64 205.98L19.99 211.18L21.33 215.68L22.67 220.36L24.02 225.56L25.36 230.68L26.7 234.86L28.04 239.46L29.39 247.39L30.73 257.84L32.07 266.32L33.41 267.82L34.76 265.22L36.1 261.81L37.44 257.61L38.79 248.89L40.13 238.89L41.47 227.69L42.81 215.54L44.16 201.04L45.5 188.96L46.84 183.86L48.18 179.96L49.53 175.47L50.87 170.87L52.21 169.77L53.56 167.87L54.9 167.37L56.24 166.7L57.58 166.8L58.93 168.11L60.27 169.22L61.61 173.72L62.96 177.92L64.3 183.12L65.64 188.52L66.98 195.82L68.33 205.52L69.67 209.39L71.01 210.19L72.35 208.87L73.7 206.95L75.04 204.85L76.38 201.85L77.73 197.35L79.07 191.75L80.41 184.66L81.75 172.56L83.1 167.69L84.44 164.19L85.78 159.51L87.12 152.31L88.47 146.11L89.81 139.81L91.15 134.25L92.5 129.15L93.84 123.24L95.18 118.44L96.52 111.38L97.87 103.78L99.21 96.98L100.55 93.65L101.89 89.33L103.24 89.53L104.58 90.18L105.92 90.64L107.27 92.24L108.61 95.54L109.95 97.4L111.29 98.56L112.64 100.06L113.98 101.79L115.32 101.17L116.67 97.81L118.01 93.53L119.35 89.34L120.69 85.77L122.04 79.83L123.38 73.59L124.72 70.5L126.06 68.84L127.41 64.7L128.75 61.94L130.09 59.29L131.44 56.75L132.78 54.92L134.12 52.99L135.46 53.05L136.81 55.92L138.15 56.03L139.49 54.06L140.83 54.13L142.18 55.18L143.52 55.05L144.86 54.8L146.21 55.08L147.55 55.82L148.89 55L150.23 52.46L151.58 51.56L152.92 52.05L154.26 52.37L155.6 50.9L156.95 50.44L158.29 50.06L159.63 48.42L160.98 45.38L162.32 42.35L163.66 41.2L165 41.85L166.35 41.06L167.69 39.1L169.03 37.62L170.38 35.33L171.72 34.16L173.06 32.68L174.4 31.96L175.75 33.92L177.09 34.07L178.43 31.7L179.77 30.69L181.12 30.52L182.46 31.18L183.8 33.15L185.15 34.24L186.49 35.06L187.83 35.47L189.17 34.41L190.52 32.99L191.86 31.1L193.2 28.8L194.54 27.41L195.89 26.08L197.23 24.27L198.57 23.84L199.92 25.15L201.26 26.95L202.6 29.24L203.94 30.83L205.29 33.7L206.63 36.56L207.97 38.36L209.31 41.15L210.66 45.09L212 47.55L213.34 49.19L214.69 50.95L216.03 52.26L217.37 54.72L218.71 55.79L220.06 56.7L221.4 58.42L222.74 59.41L224.09 61.46L225.43 62.82L226.77 62.99L228.11 63.36L229.46 62.87L230.8 62.79L232.14 64.67L233.48 67.22L234.83 69.19L236.17 70.04L237.51 67.33L238.86 65.4L240.2 64.67L241.54 63.52L242.88 64.01L244.23 66.22L245.57 69.01L246.91 72L248.25 73.93L249.6 76.19L250.94 79.3L252.28 82.88L253.63 85.56L254.97 87.66L256.31 88.15L257.65 86.42L259 82.23L260.34 76.2L261.68 70.43L263.02 66.33L264.37 63.22L265.71 61.03L267.05 58.57L268.4 56.62L269.74 54.9L271.08 54.33L272.42 54.75L273.77 55.16L275.11 55.98L276.45 57.13L277.8 58.2L279.14 59.51L280.48 60.82L281.82 61.97L283.17 63.25L284.51 64.23L285.85 64.07L287.19 64.15L288.54 63.74L289.88 62.92L291.22 61.85L292.57 59.62L293.91 59.87L295.25 59.21L296.59 59.17L297.94 60.16L299.28 60.73L300.62 62.12L301.96 64.57L303.31 65.63L304.65 67.1L305.99 67.84L307.34 67.02L308.68 67.19L310.02 66.62L311.36 64.2L312.71 63.98L314.05 66.01L315.39 67.9L316.73 70.2L318.08 70.53L319.42 70.29L320.76 69.88L322.11 69.48L323.45 67.92L324.79 65.47L326.13 60.47L327.48 54.85L328.82 50.92L330.16 47.7L331.51 47.54L332.85 49.26L334.19 51.97L335.53 54.34L336.88 60.22L338.22 68.87L339.56 76.95L340.9 81.77L342.25 86.77L343.59 92.17L344.93 96.67L346.28 101.03L347.62 102.67L348.96 105.92L350.3 108.8L351.65 106.7L352.99 105.07L354.33 104.25L355.67 100.31L357.02 96.74L358.36 90.11L359.7 82.47L361.05 77.69L362.39 72.71L363.73 65.35L365.07 61.69L366.42 60.61L367.76 60.45L369.1 62.25L370.44 61.75L371.79 63.88L373.13 67.16L374.47 69.77L375.82 71.82L377.16 74.52L378.5 78.13L379.84 83.5L381.19 90.57L382.53 93.48L383.87 96.78L385.22 98.58L386.56 100.05L387.9 100.34L389.24 102.25L390.59 104.48L391.93 107.2L393.27 106.63L394.61 105.4L395.96 105.21L397.3 105.09L398.64 105.51L399.99 103.02L401.33 102.87L402.67 103.52L404.01 103.44L405.36 102.26L406.7 103.08L408.04 103.57L409.38 106.6L410.73 109.91L412.07 113.52L413.41 118.49L414.76 125.63L416.1 131.2L417.44 140.01L418.78 148.65L420.13 156.17L421.47 165.67L422.81 175.36L424.15 183.04L425.5 191.51L426.84 205.14L428.18 215.22L429.53 221.79L430.87 224.19L432.21 224.45L433.55 226.25L434.9 225.49L436.24 224.49L437.58 228.89L438.93 232.99L440.27 231.46L441.61 227.97L442.95 229.7L444.3 233.2L445.64 239.4L446.98 244.95L448.32 251.1L449.67 257.3L451.01 259.4L452.35 261.1L453.7 264.94L455.04 269.53L456.38 270.92L457.72 270.92L459.07 270.12L460.41 268.87L461.75 267.08L463.09 264.58L464.44 263.23L465.78 262.33L467.12 261.53L468.47 262.74L469.81 264.65L471.15 268.15L472.49 272.75L473.84 276.16L475.18 279.16L476.52 283.66L477.86 288.51L479.21 292.91L480.55 297.51L481.89 299.71L483.24 298.61L484.58 296.71L485.92 294.31L487.26 290.6L488.61 286.9L489.95 282.9L491.29 279.4L492.64 277.3L493.98 275.3L495.32 275.09L496.66 277.89L498.01 283.89L499.35 282.89L500.69 283.89L502.03 284.09L503.38 286.09L504.72 286.99L506.06 286.89L507.41 286.09L508.75 282.1L510.09 275.7L511.43 267.5L512.78 265.9L514.12 264.6L515.46 262.4L516.8 257.5L518.15 252.8L519.49 248.9L520.83 244.7L522.18 240.9L523.52 240.3L524.86 237.69L526.2 233.49L527.55 228.49L528.89 224.79L530.23 221.24L531.57 218.04L532.92 214.84L534.26 210.54L535.6 208.74L536.95 207.05L538.29 206.86L539.63 205.76L540.97 205.26L542.32 206.26L543.66 207.25L545 207.95L546.35 208.35L547.69 210.65L549.03 213.05L550.37 215.04L551.72 214.67L553.06 215.67L554.4 215.77L555.74 214.77L557.09 214.44L558.43 214.04L559.77 212.94L561.12 210.94L562.46 208.84L563.8 206.74L565.14 205.71L566.49 204.91L567.83 204.41L569.17 205.41L570.51 206.61L571.86 208.62L573.2 210.99L574.54 214.39L575.89 219.29L577.23 223.17L578.57 225.87L579.91 227.77L581.26 230.07L582.6 231.67L583.94 231.67L585.28 231.66L586.63 231.9L587.97 231.3L589.31 229.7L590.66 229.07L592 231.01L593.34 235.76L594.68 240.16L596.03 241.56L597.37 242.36L598.71 238.26L600.06 233.44L601.4 229.04L602.74 225.04L604.08 220.39L605.43 215.55L606.77 209.8L608.11 203.6L609.45 199.1L610.8 195.8L612.14 196.78L613.48 198.48L614.83 199.38L616.17 199.88L617.51 201.28L618.85 199.98L620.2 197.38L621.54 195.68L622.88 194.72L624.22 194.02L625.57 191.64L626.91 188.74L628.25 186.74L629.6 183.44L630.94 179.24L632.28 177.34L633.62 174.74L634.97 172.89L636.31 171.35L637.65 170.55L638.99 169.75L640.34 168.35L641.68 166.25L643.02 165.46L644.37 164.76L645.71 162.96L647.05 162.96L648.39 163.21L649.74 165.41L651.08 169.21L652.42 175.61L653.77 183.51L655.11 189.11L656.45 193.1L657.79 196.2L659.14 200.8L660.48 207.1L661.82 210.4L663.16 211.2L664.51 209.83L665.85 207.63L667.19 206.26L668.54 207.96L669.88 208.56L671.22 211.36L672.56 212.16L673.91 211.06L675.25 212.2L676.59 213.56L677.93 216.33L679.28 218.73L680.62 219.89L681.96 223.39L683.31 230.79L684.65 233.82L685.99 237.72L687.33 245.22L688.68 250.89L690.02 256.43L691.36 262.43L692.7 268.63L694.05 272.43L695.39 275.43L696.73 277.43L698.08 281.7L699.42 288.4L700.76 293L702.1 306.4L703.45 314.34L704.79 318.14L706.13 322.94L707.48 327.77L708.82 326.97L710.16 320.37L711.5 311.47L712.85 301.07L714.19 287.17L715.53 267.87L716.87 254.02L718.22 243.02L719.56 231.52L720.9 221.46L722.25 213.93L723.59 211.14L724.93 211.08L726.27 209.68L727.62 211.88L728.96 211.48L730.3 210.48L731.64 207.88L732.99 204.31L734.33 201.25L735.67 197.48L737.02 194.07L738.36 192.23L739.7 188.63L741.04 183.63L742.39 178.83L743.73 173.63L745.07 168.05L746.41 161.89L747.76 155.41L749.1 150.41L750.44 145.21L751.79 138.51L753.13 134.61L754.47 129.21L755.81 123.71L757.16 120.01L758.5 117.41L759.84 117.58L761.19 118.76L762.53 119.06L763.87 120.56L765.21 122.04L766.56 121.54L767.9 124.14L769.24 128.04L770.58 131.34L771.93 133.11L773.27 132.75L774.61 131.65L775.96 132.35L777.3 131.15L778.64 129.87L779.98 130.27L781.33 129.77L782.67 127.97L784.01 125.67L785.35 123.87L786.7 121.86L788.04 122.36L789.38 123.86L790.73 126.16L792.07 128.97L793.41 132.27L794.75 134.97L796.1 137.17L797.44 138.87L798.78 141.17L800.12 144.41L801.47 144.51L802.81 142.93L804.15 142.53L805.5 142.42L806.84 140.52L808.18 138.32L809.52 138.92L810.87 141.92L812.21 145.32L813.55 147.52L814.9 150.65L816.24 154.03L817.58 155.63L818.92 155.03L820.27 155.63L821.61 156.73L822.95 155.73L824.29 154.23L825.64 151.23L826.98 149.63L828.32 146.5L829.67 142.7L831.01 139.7L832.35 140.1L833.69 139.7L835.04 138.8L836.38 139.8L837.72 139.22L839.06 139.52L840.41 138.32L841.75 139.02L843.09 139.22L844.44 139.32L845.78 138.62L847.12 136.32L848.46 132.92L849.81 128.02L851.15 124.5L852.49 122.1L853.83 119.8L855.18 117.4L856.52 115.52L857.86 113.42L859.21 109.72L860.55 108.02L861.89 106.62L863.23 105.22L864.58 103.52L865.92 100.52L867.26 98.24L868.61 96.04L869.95 96.32L871.29 97.32L872.63 98.02L873.98 98.42L875.32 98.82L876.66 99.22L878 99.52L879.35 100.07L880.69 100.05L882.03 99.35L883.38 97.25L884.72 92.03L886.06 87.03L887.4 82.33L888.75 78L890.09 72.53L891.43 67.43L892.77 63.03L894.12 59.47L895.46 55.7L896.8 50.45L898.15 48.91L899.49 47.47L900.83 48.44L902.17 51.97L903.52 54.14L904.86 54.94L906.2 55.68L907.54 55.44L908.89 56.37L910.23 59.89L911.57 60.01L912.92 61.12L914.26 60.74L915.6 59.06L916.94 58.62L918.29 59.42L919.63 60.4L920.97 61.07L922.32 62.24L923.66 60.14L925 60.28L926.34 59.91L927.69 59.06L929.03 57.05L930.37 56.13L931.71 54.41L933.06 52.5L934.4 51.26" stroke="#008000" stroke-opacity="0.56" stroke-width="1.3" fill="none" stroke-linejoin="round"/>
<path d="M4.5 145C4.85 145.57 5.17 146.33 6.6 148.4C8.03 150.47 10.92 154.27 13.1 157.4C15.28 160.53 18.05 164.77 19.7 167.2C21.35 169.63 21.63 169.07 23 172C24.37 174.93 26.27 180.77 27.9 184.8C29.53 188.83 31.3 193.33 32.8 196.2C34.3 199.07 34.98 200.82 36.9 202C38.82 203.18 41.7 202.9 44.3 203.3C46.9 203.7 50.05 204.15 52.5 204.4C54.95 204.65 56.82 204.25 59 204.8C61.18 205.35 63.42 206.72 65.6 207.7C67.78 208.68 70.2 210.43 72.1 210.7C74 210.97 75.35 210.22 77 209.3C78.65 208.38 80.35 206.83 82 205.2C83.65 203.57 85.27 202.08 86.9 199.5C88.53 196.92 90.3 193.5 91.8 189.7C93.3 185.9 94.8 180.17 95.9 176.7C97 173.23 97.45 171.57 98.4 168.9C99.35 166.23 99.42 163.72 101.6 160.7C103.78 157.68 108.77 153.82 111.5 150.8C114.23 147.78 115.55 146.15 118 142.6C120.45 139.05 123.73 134.13 126.2 129.5C128.67 124.87 130.88 119.72 132.8 114.8C134.72 109.88 136.08 104.35 137.7 100C139.32 95.65 140.88 91.7 142.5 88.7C144.12 85.7 145.85 84.15 147.4 82C148.95 79.85 149.77 78.27 151.8 75.8C153.83 73.33 157.15 69.33 159.6 67.2C162.05 65.07 164.37 64.67 166.5 63C168.63 61.33 170.28 59.43 172.4 57.2C174.52 54.97 176.92 51.68 179.2 49.6C181.48 47.52 183.82 46.25 186.1 44.7C188.38 43.15 190.78 41.37 192.9 40.3C195.02 39.23 196.5 38.87 198.8 38.3C201.1 37.73 204.08 37.02 206.7 36.9C209.32 36.78 212.1 37.25 214.5 37.6C216.9 37.95 218.63 38.22 221.1 39C223.57 39.78 226.57 41.07 229.3 42.3C232.03 43.53 234.9 45.03 237.5 46.4C240.1 47.77 242.85 49.13 244.9 50.5C246.95 51.87 247.88 52.97 249.8 54.6C251.72 56.23 253.93 58.53 256.4 60.3C258.87 62.07 261.87 64.23 264.6 65.2C267.33 66.17 270.07 65.82 272.8 66.1C275.53 66.38 278.27 66.85 281 66.9C283.73 66.95 286.47 66.68 289.2 66.4C291.93 66.12 294.67 65.12 297.4 65.2C300.13 65.28 302.87 66.75 305.6 66.9C308.33 67.05 311.07 66.52 313.8 66.1C316.53 65.68 319.27 64.55 322 64.4C324.73 64.25 327.47 64.65 330.2 65.2C332.93 65.75 335.67 66.73 338.4 67.7C341.13 68.67 343.87 70.12 346.6 71C349.33 71.88 352.07 72.73 354.8 73C357.53 73.27 360.47 72.43 363 72.6C365.53 72.77 367.8 73.68 370 74C372.2 74.32 374.15 73.75 376.2 74.5C378.25 75.25 380.25 77.42 382.3 78.5C384.35 79.58 386.43 79.42 388.5 81C390.57 82.58 392.63 86.5 394.7 88C396.77 89.5 398.85 89.25 400.9 90C402.95 90.75 404.92 91.78 407 92.5C409.08 93.22 411.5 93.22 413.4 94.3C415.3 95.38 416.75 96.43 418.4 99C420.05 101.57 421.67 106.02 423.3 109.7C424.93 113.38 426.57 117.28 428.2 121.1C429.83 124.92 431.47 128.77 433.1 132.6C434.73 136.43 436.77 141.2 438 144.1C439.23 147 438.83 145.85 440.5 150C442.17 154.15 445.42 162.33 448 169C450.58 175.67 453.33 183.5 456 190C458.67 196.5 461.33 201.33 464 208C466.67 214.67 470.33 225.33 472 230C473.67 234.67 472.67 233 474 236C475.33 239 478 244.17 480 248C482 251.83 484 256.17 486 259C488 261.83 490 263 492 265C494 267 496 269.17 498 271C500 272.83 502 274.83 504 276C506 277.17 508 278.17 510 278C512 277.83 513.67 276.33 516 275C518.33 273.67 520.67 272.5 524 270C527.33 267.5 532 264.17 536 260C540 255.83 545 249.17 548 245C551 240.83 552 238 554 235C556 232 557.67 229.5 560 227C562.33 224.5 565.33 221.83 568 220C570.67 218.17 573.33 216.83 576 216C578.67 215.17 581.67 215 584 215C586.33 215 587.67 215.33 590 216C592.33 216.67 595.33 218.67 598 219C600.67 219.33 603.33 218.33 606 218C608.67 217.67 611 217.67 614 217C617 216.33 621 215.17 624 214C627 212.83 629.33 211.67 632 210C634.67 208.33 637.33 206.17 640 204C642.67 201.83 645.33 198.83 648 197C650.67 195.17 653.67 194.33 656 193C658.33 191.67 660 189.5 662 189C664 188.5 666 189.5 668 190C670 190.5 672 191.5 674 192C676 192.5 678 192 680 193C682 194 684 195.83 686 198C688 200.17 690 202.67 692 206C694 209.33 696.67 215.17 698 218C699.33 220.83 699 220.17 700 223C701 225.83 702.83 231.67 704 235C705.17 238.33 706 241 707 243C708 245 708.5 245.67 710 247C711.5 248.33 713.67 250.17 716 251C718.33 251.83 721.33 252 724 252C726.67 252 729.33 252 732 251C734.67 250 738 247.33 740 246C742 244.67 742.67 244.67 744 243C745.33 241.33 746.33 239.5 748 236C749.67 232.5 752 227 754 222C756 217 758 211.33 760 206C762 200.67 764 195.5 766 190C768 184.5 770 177.67 772 173C774 168.33 776 165.17 778 162C780 158.83 782 156.67 784 154C786 151.33 788 148.67 790 146C792 143.33 794 140 796 138C798 136 799.67 134.93 802 134C804.33 133.07 807.67 132.23 810 132.4C812.33 132.57 813.67 133.9 816 135C818.33 136.1 821.33 137.67 824 139C826.67 140.33 829.33 142.5 832 143C834.67 143.5 837.25 142.35 840 142C842.75 141.65 845.67 141.62 848.5 140.9C851.33 140.18 854.17 139.13 857 137.7C859.83 136.27 862.67 134.08 865.5 132.3C868.33 130.52 871.15 129.12 874 127C876.85 124.88 879.77 122.78 882.6 119.6C885.43 116.42 888.17 111.98 891 107.9C893.83 103.82 896.77 98.83 899.6 95.1C902.43 91.37 905.17 88.33 908 85.5C910.83 82.67 913.77 80.4 916.6 78.1C919.43 75.8 921.98 73.72 925 71.7C928.02 69.68 933.08 66.95 934.7 66" stroke="#008080" stroke-opacity="0.52" stroke-width="1.85" fill="none" stroke-linejoin="round" stroke-linecap="round"/>
<path d="M4.5 125.5C4.62 125.62 3.48 124.98 5.2 126.2C6.92 127.42 11.57 129.78 14.8 132.8C18.03 135.82 21.33 140.33 24.6 144.3C27.87 148.27 31.12 153.47 34.4 156.6C37.68 159.73 41.02 161.33 44.3 163.1C47.58 164.87 51.52 166.05 54.1 167.2C56.68 168.35 57.88 168.72 59.8 170C61.72 171.28 63.27 173.27 65.6 174.9C67.93 176.53 70.53 178.57 73.8 179.8C77.07 181.03 81.65 182.02 85.2 182.3C88.75 182.58 91.53 182.18 95.1 181.5C98.67 180.82 102.78 179.62 106.6 178.2C110.42 176.78 114.45 175.1 118 173C121.55 170.9 125.23 167.77 127.9 165.6C130.57 163.43 131.98 162.1 134 160C136.02 157.9 137.67 155.67 140 153C142.33 150.33 145.33 147.83 148 144C150.67 140.17 153.33 134.67 156 130C158.67 125.33 161.33 120 164 116C166.67 112 169.33 109 172 106C174.67 103 177.33 100.67 180 98C182.67 95.33 185.52 92.85 188 90C190.48 87.15 192.65 84.07 194.9 80.9C197.15 77.73 199.32 74.02 201.5 71C203.68 67.98 205.82 64.85 208 62.8C210.18 60.75 212.42 59.85 214.6 58.7C216.78 57.55 218.65 56.72 221.1 55.9C223.55 55.08 226.57 54.42 229.3 53.8C232.03 53.18 235.03 52.67 237.5 52.2C239.97 51.73 242.32 51.2 244.1 51C245.88 50.8 246.15 50.87 248.2 51C250.25 51.13 253.67 51.62 256.4 51.8C259.13 51.98 261.87 52.05 264.6 52.1C267.33 52.15 270.07 52.02 272.8 52.1C275.53 52.18 278.27 52.4 281 52.6C283.73 52.8 286.47 52.83 289.2 53.3C291.93 53.77 294.67 54.7 297.4 55.4C300.13 56.1 302.87 56.82 305.6 57.5C308.33 58.18 311.07 58.9 313.8 59.5C316.53 60.1 319.27 60.55 322 61.1C324.73 61.65 327.47 62.03 330.2 62.8C332.93 63.57 335.67 64.75 338.4 65.7C341.13 66.65 343.87 67.82 346.6 68.5C349.33 69.18 352.07 69.52 354.8 69.8C357.53 70.08 360.47 70.17 363 70.2C365.53 70.23 367.6 69.88 370 70C372.4 70.12 374.93 70.55 377.4 70.9C379.87 71.25 382.33 71.48 384.8 72.1C387.27 72.72 389.73 73.78 392.2 74.6C394.67 75.42 397.13 76.18 399.6 77C402.07 77.82 404.53 78.47 407 79.5C409.47 80.53 412.33 81.97 414.4 83.2C416.47 84.43 417.75 85.25 419.4 86.9C421.05 88.55 422.87 91.28 424.3 93.1C425.73 94.92 426.8 96.4 428 97.8C429.2 99.2 429.28 98.97 431.5 101.5C433.72 104.03 438.03 108.9 441.3 113C444.57 117.1 448.15 121.73 451.1 126.1C454.05 130.47 456.6 135.22 459 139.2C461.4 143.18 462.67 145.2 465.5 150C468.33 154.8 472.25 162.33 476 168C479.75 173.67 484.33 178.67 488 184C491.67 189.33 494.67 194.67 498 200C501.33 205.33 504.33 211.33 508 216C511.67 220.67 516.33 224.67 520 228C523.67 231.33 526.67 233.33 530 236C533.33 238.67 536.33 241.75 540 244C543.67 246.25 549.33 248.58 552 249.5C554.67 250.42 553.9 249.72 556 249.5C558.1 249.28 561.72 248.62 564.6 248.2C567.48 247.78 570.62 247.52 573.3 247C575.98 246.48 578.03 245.82 580.7 245.1C583.37 244.38 586.42 243.42 589.3 242.7C592.18 241.98 595.32 241.63 598 240.8C600.68 239.97 603.13 238.93 605.4 237.7C607.67 236.47 609.55 234.83 611.6 233.4C613.65 231.97 615.63 230.67 617.7 229.1C619.77 227.53 621.28 226.18 624 224C626.72 221.82 631 218.5 634 216C637 213.5 639.33 210.83 642 209C644.67 207.17 647 205.83 650 205C653 204.17 656.67 204.17 660 204C663.33 203.83 666.67 203.67 670 204C673.33 204.33 676.67 205 680 206C683.33 207 686.67 208.25 690 210C693.33 211.75 697.67 214.5 700 216.5C702.33 218.5 702.5 220.58 704 222C705.5 223.42 707 224.6 709 225C711 225.4 713.5 224.9 716 224.4C718.5 223.9 721.33 222.73 724 222C726.67 221.27 729.33 220.5 732 220C734.67 219.5 737 220 740 219C743 218 746.67 215.57 750 214C753.33 212.43 756.67 210.77 760 209.6C763.33 208.43 766.67 207.93 770 207C773.33 206.07 777 205.33 780 204C783 202.67 784.67 200.83 788 199C791.33 197.17 796 195 800 193C804 191 808.67 188.83 812 187C815.33 185.17 817 184.5 820 182C823 179.5 826.67 176.33 830 172C833.33 167.67 836.92 160.13 840 156C843.08 151.87 845.67 150.08 848.5 147.2C851.33 144.32 854.17 141.18 857 138.7C859.83 136.22 862.67 134.08 865.5 132.3C868.33 130.52 871.15 129.23 874 128C876.85 126.77 879.77 126.13 882.6 124.9C885.43 123.67 888.17 122.02 891 120.6C893.83 119.18 896.77 117.82 899.6 116.4C902.43 114.98 905.17 113.35 908 112.1C910.83 110.85 913.77 110.13 916.6 108.9C919.43 107.67 922.52 106.12 925 104.7C927.48 103.28 929.88 101.47 931.5 100.4C933.12 99.33 934.17 98.65 934.7 98.3" stroke="#0000ff" stroke-opacity="0.55" stroke-width="2.1" fill="none" stroke-linejoin="round" stroke-linecap="round"/>
<path d="M4.5 136.5C4.62 136.57 3.22 136.02 5.2 136.9C7.18 137.78 11.8 139.8 16.4 141.8C21 143.8 26.52 147.4 32.8 148.9C39.08 150.4 48.63 149.8 54.1 150.8C59.57 151.8 61.78 153.87 65.6 154.9C69.42 155.93 73.18 156.72 77 157C80.82 157.28 84.93 157.08 88.5 156.6C92.07 156.12 94.57 155.47 98.4 154.1C102.23 152.73 107.13 150.32 111.5 148.4C115.87 146.48 119.97 144.08 124.6 142.6C129.23 141.12 134.73 140.33 139.3 139.5C143.87 138.67 147.88 138.25 152 137.6C156.12 136.95 160 136.53 164 135.6C168 134.67 172 133.33 176 132C180 130.67 184 128.93 188 127.6C192 126.27 196 125.1 200 124C204 122.9 208 121.9 212 121C216 120.1 220 119.27 224 118.6C228 117.93 232.33 117.77 236 117C239.67 116.23 242.67 114.83 246 114C249.33 113.17 252.67 113.17 256 112C259.33 110.83 262.67 108.67 266 107C269.33 105.33 272.67 103.67 276 102C279.33 100.33 282.67 99.17 286 97C289.33 94.83 293.28 91.15 296 89C298.72 86.85 299.88 85.6 302.3 84.1C304.72 82.6 307.77 81.23 310.5 80C313.23 78.77 315.97 77.93 318.7 76.7C321.43 75.47 324.45 73.97 326.9 72.6C329.35 71.23 331.22 69.65 333.4 68.5C335.58 67.35 337.53 66.38 340 65.7C342.47 65.02 345.2 64.75 348.2 64.4C351.2 64.05 354.72 64 358 63.6C361.28 63.2 364.67 62.48 367.9 62C371.13 61.52 374.58 60.77 377.4 60.7C380.22 60.63 381.92 61.13 384.8 61.6C387.68 62.07 391.4 62.98 394.7 63.5C398 64.02 401.52 64.2 404.6 64.7C407.68 65.2 410.73 65.68 413.2 66.5C415.67 67.32 417.33 68.35 419.4 69.6C421.47 70.85 423.55 72.45 425.6 74C427.65 75.55 429.65 77.47 431.7 78.9C433.75 80.33 435.83 81.17 437.9 82.6C439.97 84.03 442.05 85.85 444.1 87.5C446.15 89.15 448.15 90.78 450.2 92.5C452.25 94.22 453.52 95.22 456.4 97.8C459.28 100.38 463.53 104.25 467.5 108C471.47 111.75 474.78 115.38 480.2 120.3C485.62 125.22 493.7 132.63 500 137.5C506.3 142.37 513 146.25 518 149.5C523 152.75 525.67 154.33 530 157C534.33 159.67 540.67 163.58 544 165.5C547.33 167.42 547.33 167.08 550 168.5C552.67 169.92 556.67 172.08 560 174C563.33 175.92 566.67 178 570 180C573.33 182 576.67 184 580 186C583.33 188 586.67 190.08 590 192C593.33 193.92 596.67 196 600 197.5C603.33 199 606.67 199.75 610 201C613.33 202.25 616.67 203.67 620 205C623.33 206.33 626.67 207.83 630 209C633.33 210.17 636.67 211 640 212C643.33 213 646.67 213.83 650 215C653.33 216.17 656.67 217.67 660 219C663.33 220.33 666.67 221.67 670 223C673.33 224.33 676.67 225.83 680 227C683.33 228.17 686.67 229.08 690 230C693.33 230.92 697 231.5 700 232.5C703 233.5 705.33 235.58 708 236C710.67 236.42 713 235.67 716 235C719 234.33 722.67 233 726 232C729.33 231 732.67 230.33 736 229C739.33 227.67 742.67 225.83 746 224C749.33 222.17 752.67 220.17 756 218C759.33 215.83 762.67 212.83 766 211C769.33 209.17 772.67 208.5 776 207C779.33 205.5 782.67 203.33 786 202C789.33 200.67 792.33 200 796 199C799.67 198 804 196.9 808 196C812 195.1 816 194.43 820 193.6C824 192.77 828 191.93 832 191C836 190.07 840.67 189.17 844 188C847.33 186.83 849.33 185.27 852 184C854.67 182.73 856.5 182.13 860 180.4C863.5 178.67 869.33 175.33 873 173.6C876.67 171.87 879.17 171.1 882 170C884.83 168.9 886.17 168.73 890 167C893.83 165.27 901.28 161.3 905 159.6C908.72 157.9 909.65 157.97 912.3 156.8C914.95 155.63 918.05 154.02 920.9 152.6C923.75 151.18 927.1 149.45 929.4 148.3C931.7 147.15 933.82 146.13 934.7 145.7" stroke="#800080" stroke-opacity="0.55" stroke-width="2.7" fill="none" stroke-linejoin="round" stroke-linecap="round"/>
</g>
<g font-size="5.25">
<text x="8.6" y="21.5" fill="#131722" textLength="73.2" lengthAdjust="spacingAndGlyphs" stroke="#131722">Bitcoin / Dollar · 3 · CRYPTO</text>
<text x="85.8" y="21.5" fill="#131722" stroke="#131722">O</text><text x="89.8" y="21.5" fill="#089981" textLength="26.4" lengthAdjust="spacingAndGlyphs" stroke="#089981">113<tspan dx="0.75">124,54</tspan></text>
<text x="120.2" y="21.5" fill="#131722" stroke="#131722">H</text><text x="123.9" y="21.5" fill="#089981" textLength="26.4" lengthAdjust="spacingAndGlyphs" stroke="#089981">113<tspan dx="0.75">125,51</tspan></text>
<text x="154.2" y="21.5" fill="#131722" stroke="#131722">B</text><text x="157.8" y="21.5" fill="#089981" textLength="26.8" lengthAdjust="spacingAndGlyphs" stroke="#089981">113<tspan dx="0.75">124,24</tspan></text>
<text x="187.9" y="21.5" fill="#131722" stroke="#131722">C</text><text x="191.6" y="21.5" fill="#089981" textLength="26.8" lengthAdjust="spacingAndGlyphs" stroke="#089981">113<tspan dx="0.75">125,22</tspan></text>
<text x="222.8" y="21.5" fill="#089981" textLength="34" lengthAdjust="spacingAndGlyphs" stroke="#089981">+0,68 (+0,00%)</text>
<text x="8.6" y="30.1" fill="#131722" textLength="127.3" lengthAdjust="spacingAndGlyphs" stroke="#131722">SMAs (10, 50, 100, 200, close, close, close, close)</text>
<text x="140.8" y="30.1" fill="#43a047" textLength="26.7" lengthAdjust="spacingAndGlyphs" stroke="#43a047">113<tspan dx="0.75">080,23</tspan></text>
<text x="170.3" y="30.1" fill="#26a69a" textLength="27.1" lengthAdjust="spacingAndGlyphs" stroke="#26a69a">113<tspan dx="0.75">005,82</tspan></text>
<text x="201.5" y="30.1" fill="#3f3fff" textLength="26.2" lengthAdjust="spacingAndGlyphs" stroke="#3f3fff">112<tspan dx="0.75">828,43</tspan></text>
<text x="231.8" y="30.1" fill="#a040a0" textLength="26.2" lengthAdjust="spacingAndGlyphs" stroke="#a040a0">112<tspan dx="0.75">569,31</tspan></text>
</g>
<g font-size="5.25" fill="#131722">
<text x="946.3" y="31.9" textLength="24.6" lengthAdjust="spacingAndGlyphs" stroke="#131722">113<tspan dx="0.75">200,00</tspan></text>
<text x="946.3" y="50.28" textLength="24.6" lengthAdjust="spacingAndGlyphs" stroke="#131722">113<tspan dx="0.75">100,00</tspan></text>
<text x="946.3" y="68.65" textLength="24.6" lengthAdjust="spacingAndGlyphs" stroke="#131722">113<tspan dx="0.75">000,00</tspan></text>
<text x="946.3" y="87.03" textLength="24.6" lengthAdjust="spacingAndGlyphs" stroke="#131722">112<tspan dx="0.75">900,00</tspan></text>
<text x="946.3" y="105.4" textLength="24.6" lengthAdjust="spacingAndGlyphs" stroke="#131722">112<tspan dx="0.75">800,00</tspan></text>
<text x="946.3" y="123.78" textLength="24.6" lengthAdjust="spacingAndGlyphs" stroke="#131722">112<tspan dx="0.75">700,00</tspan></text>
<text x="946.3" y="142.16" textLength="24.6" lengthAdjust="spacingAndGlyphs" stroke="#131722">112<tspan dx="0.75">600,00</tspan></text>
<text x="946.3" y="160.53" textLength="24.6" lengthAdjust="spacingAndGlyphs" stroke="#131722">112<tspan dx="0.75">500,00</tspan></text>
<text x="946.3" y="178.91" textLength="24.6" lengthAdjust="spacingAndGlyphs" stroke="#131722">112<tspan dx="0.75">400,00</tspan></text>
<text x="946.3" y="197.28" textLength="24.6" lengthAdjust="spacingAndGlyphs" stroke="#131722">112<tspan dx="0.75">300,00</tspan></text>
<text x="946.3" y="215.66" textLength="24.6" lengthAdjust="spacingAndGlyphs" stroke="#131722">112<tspan dx="0.75">200,00</tspan></text>
<text x="946.3" y="234.04" textLength="24.6" lengthAdjust="spacingAndGlyphs" stroke="#131722">112<tspan dx="0.75">100,00</tspan></text>
<text x="946.3" y="252.41" textLength="24.6" lengthAdjust="spacingAndGlyphs" stroke="#131722">112<tspan dx="0.75">000,00</tspan></text>
<text x="946.3" y="270.79" textLength="24.6" lengthAdjust="spacingAndGlyphs" stroke="#131722">111<tspan dx="0.75">900,00</tspan></text>
<text x="946.3" y="289.16" textLength="24.6" lengthAdjust="spacingAndGlyphs" stroke="#131722">111<tspan dx="0.75">800,00</tspan></text>
<text x="946.3" y="307.54" textLength="24.6" lengthAdjust="spacingAndGlyphs" stroke="#131722">111<tspan dx="0.75">700,00</tspan></text>
<text x="946.3" y="325.92" textLength="24.6" lengthAdjust="spacingAndGlyphs" stroke="#131722">111<tspan dx="0.75">600,00</tspan></text>
<text x="946.3" y="344.29" textLength="24.6" lengthAdjust="spacingAndGlyphs" stroke="#131722">111<tspan dx="0.75">500,00</tspan></text>
<text x="946.3" y="362.67" textLength="24.6" lengthAdjust="spacingAndGlyphs" stroke="#131722">111<tspan dx="0.75">400,00</tspan></text>
<text x="946.3" y="381.04" textLength="24.6" lengthAdjust="spacingAndGlyphs" stroke="#131722">111<tspan dx="0.75">300,00</tspan></text>
<text x="946.3" y="399.42" textLength="24.6" lengthAdjust="spacingAndGlyphs" stroke="#131722">111<tspan dx="0.75">200,00</tspan></text>
<text x="946.3" y="417.8" textLength="24.6" lengthAdjust="spacingAndGlyphs" stroke="#131722">111<tspan dx="0.75">100,00</tspan></text>
</g>
<rect x="942" y="40" width="30.9" height="14.3" fill="#089981" rx="0.4"/>
<text x="946.3" y="46.1" font-size="5.25" fill="#fff" fill-opacity="1" textLength="24.4" lengthAdjust="spacingAndGlyphs" stroke="#fff" stroke-width="0.12" stroke-opacity="1">113<tspan dx="0.75">125,22</tspan></text>
<text x="946.3" y="51.9" font-size="5.0" fill="#fff" fill-opacity="0.75" textLength="12.2" lengthAdjust="spacingAndGlyphs" stroke="#fff" stroke-width="0.12" stroke-opacity="0.75">02:33</text>
<rect x="942" y="54.3" width="30.9" height="7.4" fill="#0a8a0a" rx="0.4"/>
<text x="946.3" y="60" font-size="5.25" fill="#fff" fill-opacity="1" textLength="24.4" lengthAdjust="spacingAndGlyphs" stroke="#fff" stroke-width="0.12" stroke-opacity="1">113<tspan dx="0.75">080,23</tspan></text>
<rect x="942" y="62.4" width="30.9" height="7.4" fill="#0b8585" rx="0.4"/>
<text x="946.3" y="68" font-size="5.25" fill="#fff" fill-opacity="1" textLength="24.4" lengthAdjust="spacingAndGlyphs" stroke="#fff" stroke-width="0.12" stroke-opacity="1">113<tspan dx="0.75">005,82</tspan></text>
<rect x="942" y="94.6" width="30.9" height="7.7" fill="#0000ff" rx="0.4"/>
<text x="946.3" y="100.3" font-size="5.25" fill="#fff" fill-opacity="1" textLength="24.4" lengthAdjust="spacingAndGlyphs" stroke="#fff" stroke-width="0.12" stroke-opacity="1">112<tspan dx="0.75">828,43</tspan></text>
<rect x="942" y="142.4" width="30.9" height="7.8" fill="#800080" rx="0.4"/>
<text x="946.3" y="148.2" font-size="5.25" fill="#fff" fill-opacity="1" textLength="24.4" lengthAdjust="spacingAndGlyphs" stroke="#fff" stroke-width="0.12" stroke-opacity="1">112<tspan dx="0.75">569,31</tspan></text>
<g font-size="5.25" fill="#131722" text-anchor="middle">
<text x="27.2" y="435.9" textLength="12.6" lengthAdjust="spacingAndGlyphs" stroke="#131722">03:00</text>
<text x="54.05" y="435.9" textLength="12.6" lengthAdjust="spacingAndGlyphs" stroke="#131722">04:00</text>
<text x="80.91" y="435.9" textLength="12.6" lengthAdjust="spacingAndGlyphs" stroke="#131722">05:00</text>
<text x="107.77" y="435.9" textLength="12.6" lengthAdjust="spacingAndGlyphs" stroke="#131722">06:00</text>
<text x="134.62" y="435.9" textLength="12.6" lengthAdjust="spacingAndGlyphs" stroke="#131722">07:00</text>
<text x="161.47" y="435.9" textLength="12.6" lengthAdjust="spacingAndGlyphs" stroke="#131722">08:00</text>
<text x="188.33" y="435.9" textLength="12.6" lengthAdjust="spacingAndGlyphs" stroke="#131722">09:00</text>
<text x="215.19" y="435.9" textLength="12.6" lengthAdjust="spacingAndGlyphs" stroke="#131722">10:00</text>
<text x="242.04" y="435.9" textLength="12.6" lengthAdjust="spacingAndGlyphs" stroke="#131722">11:00</text>
<text x="268.89" y="435.9" textLength="12.6" lengthAdjust="spacingAndGlyphs" stroke="#131722">12:00</text>
<text x="295.75" y="435.9" textLength="12.6" lengthAdjust="spacingAndGlyphs" stroke="#131722">13:00</text>
<text x="322.61" y="435.9" textLength="12.6" lengthAdjust="spacingAndGlyphs" stroke="#131722">14:00</text>
<text x="349.46" y="435.9" textLength="12.6" lengthAdjust="spacingAndGlyphs" stroke="#131722">15:00</text>
<text x="376.31" y="435.9" textLength="12.6" lengthAdjust="spacingAndGlyphs" stroke="#131722">16:00</text>
<text x="403.17" y="435.9" textLength="12.6" lengthAdjust="spacingAndGlyphs" stroke="#131722">17:00</text>
<text x="430.02" y="435.9" textLength="12.6" lengthAdjust="spacingAndGlyphs" stroke="#131722">18:00</text>
<text x="456.88" y="435.9" textLength="12.6" lengthAdjust="spacingAndGlyphs" stroke="#131722">19:00</text>
<text x="483.74" y="435.9" textLength="12.6" lengthAdjust="spacingAndGlyphs" stroke="#131722">20:00</text>
<text x="510.59" y="435.9" textLength="12.6" lengthAdjust="spacingAndGlyphs" stroke="#131722">21:00</text>
<text x="537.45" y="435.9" textLength="12.6" lengthAdjust="spacingAndGlyphs" stroke="#131722">22:00</text>
<text x="564.3" y="435.9" textLength="12.6" lengthAdjust="spacingAndGlyphs" stroke="#131722">23:00</text>
<text x="591.16" y="435.9" font-weight="bold" stroke="#131722">24</text>
<text x="618.01" y="435.9" textLength="12.6" lengthAdjust="spacingAndGlyphs" stroke="#131722">01:00</text>
<text x="644.87" y="435.9" textLength="12.6" lengthAdjust="spacingAndGlyphs" stroke="#131722">02:00</text>
<text x="671.72" y="435.9" textLength="12.6" lengthAdjust="spacingAndGlyphs" stroke="#131722">03:00</text>
<text x="698.58" y="435.9" textLength="12.6" lengthAdjust="spacingAndGlyphs" stroke="#131722">04:00</text>
<text x="725.43" y="435.9" textLength="12.6" lengthAdjust="spacingAndGlyphs" stroke="#131722">05:00</text>
<text x="752.29" y="435.9" textLength="12.6" lengthAdjust="spacingAndGlyphs" stroke="#131722">06:00</text>
<text x="779.14" y="435.9" textLength="12.6" lengthAdjust="spacingAndGlyphs" stroke="#131722">07:00</text>
<text x="806" y="435.9" textLength="12.6" lengthAdjust="spacingAndGlyphs" stroke="#131722">08:00</text>
<text x="832.85" y="435.9" textLength="12.6" lengthAdjust="spacingAndGlyphs" stroke="#131722">09:00</text>
<text x="859.71" y="435.9" textLength="12.6" lengthAdjust="spacingAndGlyphs" stroke="#131722">10:00</text>
<text x="886.56" y="435.9" textLength="12.6" lengthAdjust="spacingAndGlyphs" stroke="#131722">11:00</text>
<text x="913.42" y="435.9" textLength="12.6" lengthAdjust="spacingAndGlyphs" stroke="#131722">12:00</text>
</g>
<g clip-path="url(#tclip)"><defs><clipPath id="tclip"><rect x="900" y="428" width="41.9" height="12"/></clipPath></defs><text x="940.27" y="435.9" font-size="5.25" fill="#131722" text-anchor="middle" textLength="12.6" lengthAdjust="spacingAndGlyphs" stroke="#131722">13:00</text></g>
<g transform="translate(934.8 421.7)"><circle r="4.75" fill="#fff" stroke="#a32fbc" stroke-width="0.95"/><path d="M0.9 -3L-2 0.5H-0.1L-0.9 3L2 -0.5H0.1Z" fill="#a32fbc"/></g>
<g fill="#131722">
<path d="M5.6 451.9H12.3V458.9H8.9V455.2H5.6Z"/>
<circle cx="13.9" cy="453.5" r="1.55"/>
<path d="M16.4 451.9H19.9L17 458.9H13.5Z"/>
<text x="23.4" y="458.9" font-size="10.2" textLength="57.8" lengthAdjust="spacingAndGlyphs" stroke="#131722" style="stroke-width:0.6">TradingView</text>
</g>
</svg></body></html>
